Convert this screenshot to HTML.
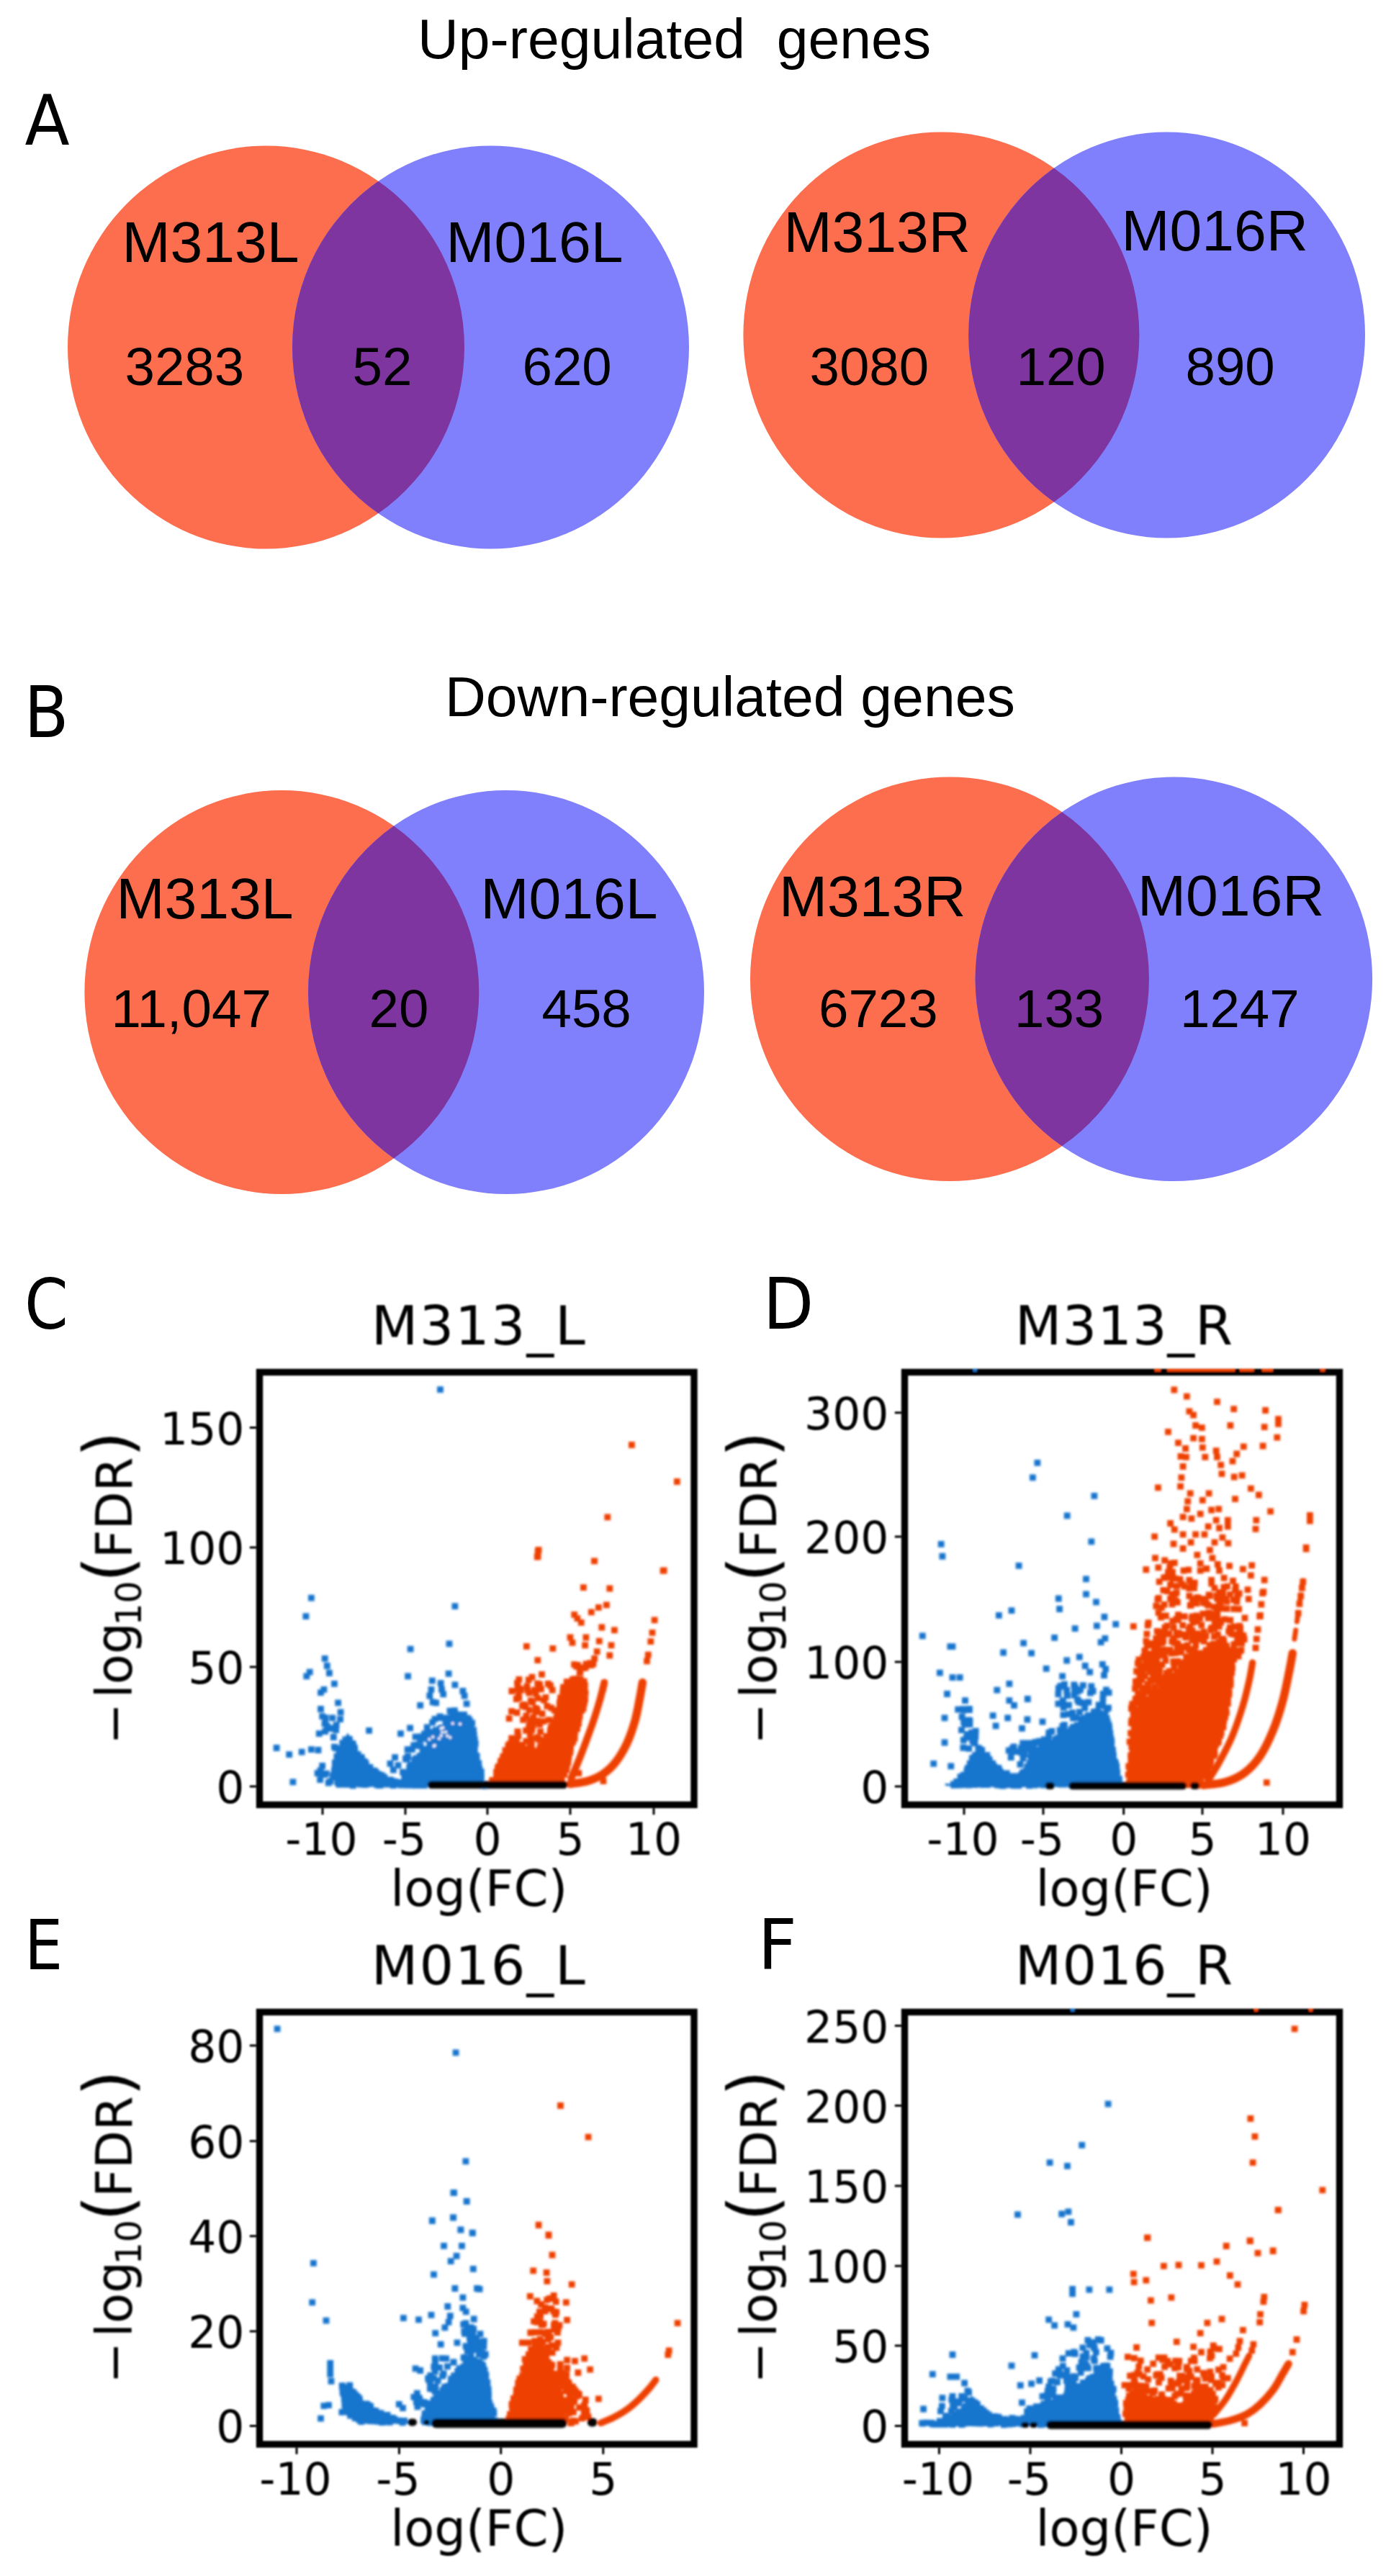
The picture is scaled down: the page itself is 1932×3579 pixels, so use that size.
<!DOCTYPE html>
<html><head><meta charset="utf-8"><title>Figure</title>
<style>html,body{margin:0;padding:0;background:#fff}svg{display:block}text{fill:#000}</style>
</head><body>
<svg width="1932" height="3579" viewBox="0 0 1932 3579">
<rect width="1932" height="3579" fill="#fff"/>
<filter id="blv" x="0" y="0" width="1932" height="3579" filterUnits="userSpaceOnUse"><feGaussianBlur stdDeviation="0.7"/></filter><g filter="url(#blv)">
<ellipse cx="369.5" cy="482.5" rx="275.5" ry="280" fill="#FC6E4E"/>
<ellipse cx="681.5" cy="482.5" rx="275.5" ry="280" fill="#8080FC"/>
<path d="M525.5 251.7A275.5 280 0 0 1 525.5 713.3A275.5 280 0 0 1 525.5 251.7Z" fill="#7F35A0"/>
<ellipse cx="1307.4" cy="465.5" rx="275" ry="282" fill="#FC6E4E"/>
<ellipse cx="1620.6" cy="465.5" rx="275.4" ry="282" fill="#8080FC"/>
<path d="M1463.9 233.6A275 282 0 0 1 1463.9 697.4A275.4 282 0 0 1 1463.9 233.6Z" fill="#7F35A0"/>
<ellipse cx="391.4" cy="1378.5" rx="274" ry="280.5" fill="#FC6E4E"/>
<ellipse cx="703" cy="1378.5" rx="275" ry="280.5" fill="#8080FC"/>
<path d="M546.9 1147.6A274 280.5 0 0 1 546.9 1609.4A275 280.5 0 0 1 546.9 1147.6Z" fill="#7F35A0"/>
<ellipse cx="1319" cy="1360.3" rx="277" ry="280.8" fill="#FC6E4E"/>
<ellipse cx="1630.3" cy="1360.3" rx="275.8" ry="280.8" fill="#8080FC"/>
<path d="M1475.0 1128.3A277 280.8 0 0 1 1475.0 1592.3A275.8 280.8 0 0 1 1475.0 1128.3Z" fill="#7F35A0"/>
<text x="580" y="81" font-size="78.7" font-family="'Liberation Sans', sans-serif" text-anchor="start" >Up-regulated&#160; genes</text>
<text x="618" y="994.6" font-size="78.7" font-family="'Liberation Sans', sans-serif" text-anchor="start" >Down-regulated genes</text>
<text x="169.5" y="363.5" font-size="80.5" font-family="'Liberation Sans', sans-serif" text-anchor="start" >M313L</text>
<text x="619.5" y="363.5" font-size="80.5" font-family="'Liberation Sans', sans-serif" text-anchor="start" >M016L</text>
<text x="173.5" y="534.5" font-size="74.5" font-family="'Liberation Sans', sans-serif" text-anchor="start" >3283</text>
<text x="489.5" y="534.5" font-size="74.5" font-family="'Liberation Sans', sans-serif" text-anchor="start" >52</text>
<text x="725.5" y="534.5" font-size="74.5" font-family="'Liberation Sans', sans-serif" text-anchor="start" >620</text>
<text x="1088.5" y="350" font-size="80.5" font-family="'Liberation Sans', sans-serif" text-anchor="start" >M313R</text>
<text x="1557.5" y="348" font-size="80.5" font-family="'Liberation Sans', sans-serif" text-anchor="start" >M016R</text>
<text x="1124.5" y="534.5" font-size="74.5" font-family="'Liberation Sans', sans-serif" text-anchor="start" >3080</text>
<text x="1411.5" y="534.5" font-size="74.5" font-family="'Liberation Sans', sans-serif" text-anchor="start" >120</text>
<text x="1646.5" y="534.5" font-size="74.5" font-family="'Liberation Sans', sans-serif" text-anchor="start" >890</text>
<text x="161.5" y="1276" font-size="80.5" font-family="'Liberation Sans', sans-serif" text-anchor="start" >M313L</text>
<text x="667.5" y="1276" font-size="80.5" font-family="'Liberation Sans', sans-serif" text-anchor="start" >M016L</text>
<text x="154.5" y="1427" font-size="74.5" font-family="'Liberation Sans', sans-serif" text-anchor="start" >11,047</text>
<text x="512.5" y="1427" font-size="74.5" font-family="'Liberation Sans', sans-serif" text-anchor="start" >20</text>
<text x="752.5" y="1427" font-size="74.5" font-family="'Liberation Sans', sans-serif" text-anchor="start" >458</text>
<text x="1082.0" y="1273" font-size="80.5" font-family="'Liberation Sans', sans-serif" text-anchor="start" >M313R</text>
<text x="1580.0" y="1272" font-size="80.5" font-family="'Liberation Sans', sans-serif" text-anchor="start" >M016R</text>
<text x="1137.0" y="1427" font-size="74.5" font-family="'Liberation Sans', sans-serif" text-anchor="start" >6723</text>
<text x="1409.0" y="1427" font-size="74.5" font-family="'Liberation Sans', sans-serif" text-anchor="start" >133</text>
<text x="1639.0" y="1427" font-size="74.5" font-family="'Liberation Sans', sans-serif" text-anchor="start" >1247</text>
<text transform="translate(34.51,200.60) scale(1.0090,0.9547)" font-size="100" style="font-family:'DejaVu Sans Condensed','DejaVu Sans',sans-serif;font-stretch:condensed">A</text>
<text transform="translate(33.53,1024.50) scale(1.0036,0.9808)" font-size="100" style="font-family:'DejaVu Sans Condensed','DejaVu Sans',sans-serif;font-stretch:condensed">B</text>
<text transform="translate(33.89,1845.63) scale(0.9663,0.9652)" font-size="100" style="font-family:'DejaVu Sans Condensed','DejaVu Sans',sans-serif;font-stretch:condensed">C</text>
<text transform="translate(1059.81,1846.00) scale(1.0177,0.9739)" font-size="100" style="font-family:'DejaVu Sans Condensed','DejaVu Sans',sans-serif;font-stretch:condensed">D</text>
<text transform="translate(34.12,2735.50) scale(0.9365,0.9602)" font-size="100" style="font-family:'DejaVu Sans Condensed','DejaVu Sans',sans-serif;font-stretch:condensed">E</text>
<text transform="translate(1052.62,2735.50) scale(1.0505,0.9602)" font-size="100" style="font-family:'DejaVu Sans Condensed','DejaVu Sans',sans-serif;font-stretch:condensed">F</text>
</g>
<filter id="bl" x="0" y="1700" width="1932" height="1879" filterUnits="userSpaceOnUse"><feGaussianBlur stdDeviation="0.8"/></filter><filter id="bl2" x="0" y="1700" width="1932" height="1879" filterUnits="userSpaceOnUse"><feGaussianBlur stdDeviation="1.3"/></filter><g filter="url(#bl)">
<clipPath id="clipC"><rect x="360.5" y="1901.5" width="603.5" height="606.0"/></clipPath>
<g clip-path="url(#clipC)"><g filter="url(#bl2)">
<path d="M466.3 2476.1L468.7 2481.3L594.2 2481.3L587.7 2480.0L560.6 2476.5L560.4 2476.5L560.3 2476.4L542.7 2471.2L542.6 2471.1L542.4 2471.0L524.9 2462.3L524.7 2462.2L524.5 2462.0L509.2 2449.8L509.0 2449.7L508.9 2449.5L508.8 2449.4L495.7 2431.9L495.6 2431.7L495.5 2431.6L486.7 2414.1L482.9 2407.5L475.8 2420.6L467.1 2437.9L462.9 2457.0ZM557.1 2479.1L557.1 2481.3L673.7 2481.3L673.7 2479.2L669.9 2467.2L669.9 2467.1L663.7 2440.8L663.7 2440.6L659.7 2415.6L659.7 2415.6L656.3 2391.3L644.0 2380.6L635.8 2376.9L629.1 2383.7L620.4 2396.7L620.3 2396.8L620.2 2396.9L607.9 2410.1L607.9 2410.2L595.6 2422.4L595.5 2422.5L582.5 2434.7L569.5 2451.1L559.2 2467.4Z" fill="#1874CD"/>
<path d="M469.4 2476.9h0M471.0 2479.3h0M478.3 2478.2h0M480.1 2479.3h0M485.3 2479.3h0M490.4 2480.9h0M495.1 2478.0h0M500.9 2479.1h0M502.4 2478.0h0M507.0 2479.5h0M510.9 2478.6h0M516.6 2478.0h0M523.8 2479.9h0M526.7 2480.6h0M528.9 2480.2h0M538.0 2479.2h0M542.2 2478.9h0M546.3 2480.6h0M549.6 2478.0h0M553.6 2479.2h0M557.0 2480.1h0M563.3 2479.3h0M568.3 2479.6h0M567.8 2477.7h0M565.5 2480.4h0M559.8 2477.2h0M561.5 2479.1h0M558.5 2476.6h0M554.6 2476.4h0M548.2 2475.1h0M540.8 2473.9h0M543.2 2473.6h0M541.7 2472.9h0M538.3 2472.9h0M533.8 2469.2h0M530.3 2466.7h0M526.5 2465.3h0M522.4 2462.9h0M523.9 2464.8h0M521.3 2462.0h0M519.7 2460.2h0M513.9 2455.5h0M508.2 2450.7h0M507.4 2449.7h0M507.9 2449.9h0M508.2 2450.5h0M506.2 2447.5h0M502.6 2443.4h0M501.7 2441.3h0M497.2 2437.4h0M492.7 2431.8h0M492.8 2433.1h0M492.5 2428.5h0M490.5 2423.8h0M489.5 2422.3h0M485.5 2417.2h0M484.4 2416.2h0M479.9 2416.8h0M480.7 2418.7h0M475.7 2421.7h0M471.9 2430.5h0M471.3 2433.0h0M470.7 2438.6h0M467.9 2440.4h0M468.2 2443.9h0M465.3 2449.2h0M465.5 2453.2h0M466.7 2459.5h0M465.2 2464.2h0M466.5 2469.0h0M468.8 2475.4h0M560.2 2479.9h0M562.7 2478.6h0M565.4 2478.4h0M571.2 2480.3h0M576.3 2479.1h0M577.9 2480.7h0M585.7 2480.7h0M586.8 2478.2h0M589.4 2480.7h0M599.7 2479.0h0M603.3 2479.1h0M605.8 2478.2h0M611.1 2479.7h0M617.2 2478.8h0M622.3 2477.9h0M624.0 2478.3h0M629.3 2478.7h0M635.5 2478.3h0M635.7 2480.3h0M642.1 2479.1h0M650.5 2478.8h0M650.4 2478.2h0M655.3 2477.9h0M662.2 2479.8h0M664.3 2478.1h0M673.1 2481.0h0M670.8 2479.2h0M668.4 2468.5h0M667.4 2467.7h0M667.0 2464.8h0M668.3 2461.7h0M665.8 2457.3h0M664.0 2452.1h0M664.8 2449.8h0M662.1 2444.4h0M662.2 2440.2h0M661.1 2439.4h0M659.3 2431.8h0M659.2 2428.7h0M660.3 2422.3h0M659.3 2417.0h0M656.9 2416.7h0M658.3 2410.6h0M657.3 2412.0h0M657.7 2403.9h0M653.9 2396.8h0M655.7 2394.0h0M652.2 2390.0h0M649.8 2387.2h0M644.6 2382.3h0M644.0 2382.9h0M633.2 2383.4h0M628.8 2386.3h0M625.3 2390.7h0M623.8 2393.8h0M620.7 2396.6h0M622.7 2397.7h0M620.2 2399.1h0M617.5 2402.6h0M610.5 2410.4h0M608.3 2411.4h0M606.3 2413.1h0M604.1 2419.1h0M600.3 2419.3h0M596.9 2424.9h0M596.9 2425.7h0M591.7 2430.2h0M587.2 2434.1h0M583.1 2439.6h0M577.8 2442.8h0M575.7 2445.3h0M570.3 2451.8h0M568.7 2455.1h0M568.8 2455.3h0M564.5 2464.4h0M564.1 2466.6h0M561.7 2469.9h0M559.9 2477.2h0M574.7 2424.8h0M611.4 2402.8h0M600.7 2406.6h0M618.9 2390.0h0M594.8 2415.6h0M632.3 2386.6h0M619.4 2392.0h0M614.4 2386.9h0M589.5 2408.9h0M576.7 2425.3h0M584.0 2416.9h0M633.8 2392.7h0M597.7 2414.0h0M647.8 2390.7h0M642.6 2382.3h0M627.8 2380.4h0M598.0 2414.2h0M625.0 2377.2h0M563.5 2443.5h0M633.9 2393.6h0M566.6 2441.2h0M605.1 2403.7h0M566.5 2440.1h0M600.6 2393.1h0M614.0 2400.3h0M595.0 2416.4h0M593.2 2399.9h0M610.9 2384.9h0M638.9 2383.7h0M611.5 2386.5h0M572.4 2430.5h0M631.4 2376.6h0M584.0 2425.8h0M564.8 2444.3h0M622.8 2387.0h0M604.0 2388.4h0M621.4 2398.4h0M588.1 2415.2h0M594.8 2406.4h0M596.4 2411.6h0M591.6 2410.9h0M583.6 2415.8h0M630.2 2380.1h0M583.1 2412.9h0M611.7 2401.7h0M451.6 2405.6h0M463.3 2413.5h0M452.1 2386.7h0M458.1 2400.8h0M451.0 2394.9h0M472.6 2388.6h0M466.6 2428.8h0M451.7 2394.7h0M467.1 2396.7h0M458.5 2401.7h0M462.5 2466.9h0M444.6 2472.6h0M447.8 2465.4h0M456.2 2477.0h0M464.4 2459.6h0M453.2 2464.2h0M458.9 2474.8h0M445.0 2459.8h0M611.5 1930.6h0M432.4 2220.2h0M424.9 2245.6h0M451.2 2304.4h0M454.3 2314.5h0M457.4 2324.5h0M430.2 2323.2h0M425.8 2328.9h0M464.4 2339.4h0M449.9 2347.3h0M445.5 2351.7h0M469.6 2365.8h0M445.5 2374.5h0M473.1 2378.9h0M447.7 2384.6h0M461.7 2386.8h0M454.3 2397.8h0M466.6 2403.5h0M443.3 2408.7h0M512.6 2404.4h0M464.4 2427.2h0M384.1 2428.5h0M401.7 2437.7h0M419.2 2434.2h0M432.4 2430.7h0M442.0 2431.5h0M447.7 2453.5h0M441.1 2463.6h0M449.9 2465.7h0M406.9 2475.8h0M631.9 2231.6h0M624.0 2283.8h0M570.1 2291.2h0M623.1 2325.4h0M566.6 2328.9h0M600.3 2335.1h0M599.0 2347.3h0M596.8 2356.1h0M601.2 2364.9h0M612.2 2338.6h0M613.5 2347.3h0M615.7 2353.9h0M605.6 2365.8h0M631.9 2340.8h0M642.9 2349.5h0M645.1 2356.1h0M648.1 2367.1h0M583.7 2369.3h0M548.6 2441.6h0M542.0 2450.4h0M553.0 2452.6h0M546.4 2459.2h0M559.5 2462.2h0M556.5 2408.7h0M569.6 2400.8h0M577.1 2413.1h0M566.1 2430.7h0M579.3 2424.1h0" fill="none" stroke="#1874CD" stroke-width="8.8" stroke-linecap="square"/>
<path d="M602.7 2426.0h0M612.6 2401.6h0M615.2 2400.6h0M612.8 2411.6h0M614.3 2406.7h0M628.8 2394.4h0M625.1 2414.1h0M639.0 2395.3h0M610.0 2415.4h0M601.2 2413.3h0M603.8 2425.1h0M621.2 2411.7h0M619.0 2406.4h0M596.3 2416.5h0" fill="none" stroke="#fff" stroke-width="4" stroke-linecap="round"/>
<path d="M681.1 2480.6L681.8 2481.3L781.6 2481.3L782.5 2476.3L782.6 2476.2L787.8 2456.5L794.4 2430.2L794.4 2430.1L803.2 2399.4L811.9 2368.8L815.8 2344.1L811.1 2334.1L798.5 2330.1L786.0 2334.1L779.9 2350.1L773.3 2380.7L773.3 2380.8L773.2 2381.0L761.8 2407.3L761.7 2407.5L761.6 2407.7L749.8 2425.2L749.6 2425.4L749.5 2425.5L749.4 2425.6L738.4 2434.4L738.2 2434.5L738.1 2434.6L737.9 2434.7L737.7 2434.8L737.5 2434.8L737.3 2434.8L737.1 2434.9L737.0 2434.8L736.8 2434.8L736.6 2434.8L736.4 2434.7L736.2 2434.6L736.1 2434.5L735.9 2434.4L735.8 2434.3L722.7 2421.6L711.3 2412.5L703.8 2423.7L695.1 2445.4L695.1 2445.5L686.4 2466.5Z" fill="#EE4000"/>
<path d="M793.3 2471.0C794.9 2467.2 799.5 2456.8 802.9 2448.2C806.4 2439.7 810.2 2429.6 813.9 2419.7C817.5 2409.8 821.6 2398.9 824.9 2389.0C828.1 2379.1 831.2 2369.1 833.6 2360.5C836.0 2351.9 838.4 2341.5 839.3 2337.7" fill="none" stroke="#EE4000" stroke-width="10" stroke-linecap="round"/>
<path d="M792.0 2478.5C796.0 2477.8 808.4 2476.9 816.1 2474.5C823.8 2472.2 831.4 2468.9 838.0 2464.4C844.6 2460.0 850.1 2454.9 855.5 2447.8C861.0 2440.7 866.5 2431.3 870.9 2421.9C875.3 2412.5 878.9 2401.4 881.9 2391.2C884.8 2381.0 886.7 2369.4 888.4 2360.5C890.2 2351.6 891.7 2341.5 892.4 2337.7" fill="none" stroke="#EE4000" stroke-width="11.5" stroke-linecap="round"/>
<path d="M686.4 2478.3h0M689.2 2479.8h0M697.2 2479.8h0M697.7 2478.8h0M704.3 2478.6h0M708.1 2479.0h0M712.8 2480.7h0M719.0 2478.1h0M722.4 2480.0h0M729.9 2478.9h0M731.2 2478.3h0M733.9 2478.2h0M741.8 2479.7h0M745.5 2478.5h0M751.7 2479.2h0M751.0 2478.9h0M758.6 2478.6h0M766.4 2479.0h0M769.1 2478.0h0M771.2 2478.7h0M779.6 2478.0h0M780.8 2477.9h0M780.1 2474.5h0M779.7 2475.3h0M783.8 2465.4h0M783.6 2462.6h0M786.6 2458.9h0M787.4 2453.6h0M789.0 2448.7h0M789.4 2444.4h0M790.1 2440.1h0M791.9 2434.7h0M791.7 2432.8h0M792.5 2429.9h0M792.3 2428.6h0M794.2 2421.9h0M796.2 2419.4h0M798.2 2414.8h0M797.1 2408.5h0M798.7 2406.0h0M801.6 2401.8h0M803.6 2394.7h0M802.7 2391.8h0M804.2 2387.3h0M805.2 2383.8h0M807.8 2376.5h0M810.2 2373.5h0M809.6 2372.4h0M811.4 2366.6h0M812.6 2361.3h0M810.7 2355.8h0M813.1 2352.2h0M811.9 2347.8h0M812.4 2341.4h0M811.2 2336.1h0M806.3 2333.3h0M798.8 2332.6h0M795.5 2333.5h0M787.3 2336.6h0M787.2 2338.8h0M782.5 2344.2h0M782.1 2348.5h0M781.7 2353.3h0M778.5 2358.9h0M777.4 2365.7h0M777.3 2369.0h0M774.6 2377.1h0M776.8 2376.9h0M773.7 2380.8h0M775.3 2382.6h0M773.9 2383.7h0M772.2 2388.5h0M770.3 2392.7h0M768.5 2397.8h0M765.3 2399.4h0M764.2 2404.8h0M764.3 2407.6h0M764.8 2409.5h0M758.8 2412.5h0M759.0 2417.2h0M755.2 2418.2h0M753.4 2426.7h0M750.6 2425.6h0M752.2 2428.2h0M751.0 2426.9h0M749.9 2429.7h0M744.8 2432.7h0M740.9 2434.0h0M738.1 2436.5h0M739.3 2436.6h0M740.3 2435.5h0M740.0 2435.8h0M737.9 2436.8h0M738.2 2436.1h0M737.2 2436.7h0M735.9 2436.3h0M735.7 2437.6h0M735.2 2436.8h0M736.7 2436.8h0M735.0 2435.1h0M734.8 2435.5h0M733.8 2434.8h0M733.7 2436.7h0M731.8 2433.7h0M728.7 2429.9h0M725.7 2428.5h0M725.4 2424.5h0M717.4 2420.7h0M712.5 2416.9h0M710.6 2415.1h0M708.2 2422.8h0M705.9 2425.2h0M702.0 2432.0h0M702.9 2432.6h0M698.8 2440.5h0M697.9 2445.2h0M695.4 2447.2h0M697.2 2448.9h0M692.7 2454.1h0M691.4 2456.3h0M689.5 2462.2h0M689.6 2465.5h0M684.8 2473.5h0M683.6 2473.7h0M718.8 2406.0h0M739.1 2390.3h0M759.9 2370.3h0M744.7 2373.7h0M719.8 2412.2h0M736.2 2426.2h0M718.0 2379.5h0M738.3 2423.8h0M770.1 2376.1h0M746.8 2359.4h0M746.9 2415.1h0M730.9 2383.8h0M746.4 2376.9h0M765.6 2372.9h0M745.8 2390.9h0M723.3 2348.3h0M739.0 2403.3h0M730.6 2404.3h0M707.2 2387.7h0M718.5 2338.3h0M746.7 2339.1h0M742.5 2348.2h0M739.7 2365.1h0M751.5 2346.7h0M735.1 2375.8h0M755.5 2362.2h0M734.7 2399.5h0M744.1 2378.6h0M753.1 2381.0h0M762.6 2389.7h0M726.7 2389.4h0M737.4 2419.4h0M754.6 2391.6h0M735.9 2393.3h0M757.9 2358.3h0M767.2 2348.1h0M740.7 2386.2h0M725.5 2370.2h0M737.6 2416.7h0M748.9 2392.0h0M732.8 2348.2h0M740.3 2396.8h0M710.5 2377.6h0M719.5 2347.2h0M744.1 2352.5h0M744.4 2373.5h0M750.6 2405.8h0M764.5 2342.0h0M736.3 2409.1h0M720.2 2356.2h0M734.8 2352.2h0M722.5 2346.6h0M737.1 2417.5h0M748.8 2416.5h0M737.3 2363.0h0M749.6 2340.4h0M749.6 2395.8h0M727.9 2368.3h0M730.9 2419.2h0M720.8 2358.8h0M746.3 2375.9h0M730.0 2371.5h0M719.1 2405.9h0M719.3 2343.4h0M750.8 2346.8h0M745.9 2413.8h0M739.0 2330.1h0M730.8 2384.7h0M734.3 2333.8h0M717.3 2360.5h0M819.8 2310.7h0M800.8 2315.3h0M824.0 2311.5h0M805.3 2324.0h0M797.6 2312.7h0M813.3 2316.8h0M810.5 2317.7h0M814.1 2312.0h0M802.4 2313.5h0M808.6 2316.9h0M821.2 2313.5h0M805.9 2322.1h0M877.4 2007.5h0M940.4 2058.5h0M843.8 2107.8h0M747.2 2155.1h0M746.3 2163.0h0M825.4 2168.9h0M921.1 2182.3h0M748.1 2153.5h0M747.2 2162.3h0M825.7 2168.9h0M922.2 2182.0h0M810.4 2205.7h0M846.8 2207.0h0M842.4 2229.8h0M831.4 2233.3h0M821.3 2239.9h0M797.7 2243.4h0M802.0 2248.7h0M807.3 2254.4h0M835.8 2261.0h0M853.4 2264.9h0M792.0 2275.0h0M795.0 2282.4h0M813.9 2275.0h0M812.6 2285.9h0M832.3 2280.2h0M849.0 2285.9h0M731.4 2287.3h0M767.8 2290.3h0M829.2 2294.7h0M846.8 2300.0h0M825.7 2304.4h0M746.8 2306.6h0M752.5 2326.3h0M720.9 2333.3h0M761.3 2339.4h0M731.9 2343.0h0M710.8 2349.5h0M898.5 2307.9h0M900.3 2299.1h0M903.8 2280.7h0M906.0 2268.4h0M909.1 2250.9h0M838.0 2474.5h0M803.8 2463.6h0M839.3 2338.6h0M838.0 2345.1h0" fill="none" stroke="#EE4000" stroke-width="8.8" stroke-linecap="square"/>
<path d="M599.0 2479.8L783.2 2479.8" stroke="#000" stroke-width="10.5" stroke-linecap="round"/>
</g></g>
<rect x="360.5" y="1906.5" width="603.5" height="601.0" fill="none" stroke="#000" stroke-width="9.4"/>
<text x="446.5" y="2576.5" font-size="61.5" font-family="'DejaVu Sans', sans-serif" text-anchor="middle">-10</text>
<text x="561.5" y="2576.5" font-size="61.5" font-family="'DejaVu Sans', sans-serif" text-anchor="middle">-5</text>
<text x="677" y="2576.5" font-size="61.5" font-family="'DejaVu Sans', sans-serif" text-anchor="middle">0</text>
<text x="792" y="2576.5" font-size="61.5" font-family="'DejaVu Sans', sans-serif" text-anchor="middle">5</text>
<text x="908" y="2576.5" font-size="61.5" font-family="'DejaVu Sans', sans-serif" text-anchor="middle">10</text>
<text x="339.5" y="2006.5" font-size="61.5" font-family="'DejaVu Sans', sans-serif" text-anchor="end">150</text>
<text x="339.5" y="2173.0" font-size="61.5" font-family="'DejaVu Sans', sans-serif" text-anchor="end">100</text>
<text x="339.5" y="2339.0" font-size="61.5" font-family="'DejaVu Sans', sans-serif" text-anchor="end">50</text>
<text x="339.5" y="2505.0" font-size="61.5" font-family="'DejaVu Sans', sans-serif" text-anchor="end">0</text>
<path d="M448 2512.2v9M563 2512.2v9M677 2512.2v9M792 2512.2v9M908 2512.2v9M355.8 1983.5h-9M355.8 2150h-9M355.8 2316h-9M355.8 2482h-9" stroke="#000" stroke-width="3" fill="none"/>
<text x="665.25" y="1868.3" font-size="75" letter-spacing="2" font-family="'DejaVu Sans', sans-serif" text-anchor="middle">M313_L</text>
<text x="665.25" y="2647.8" font-size="68.8" font-family="'DejaVu Sans', sans-serif" text-anchor="middle">log(FC)</text>
<text transform="translate(182.8,2423.6) rotate(-90)" font-size="69" font-family="'DejaVu Sans', sans-serif">−<tspan dx="6.3">log</tspan><tspan font-size="49" dy="13" dx="-4.4">10</tspan><tspan font-size="92" dy="-13" dx="-2">(</tspan><tspan dx="-2.7">FDR</tspan><tspan font-size="92">)</tspan></text>
<clipPath id="clipD"><rect x="1256.5" y="1901.5" width="604.0" height="606.0"/></clipPath>
<g clip-path="url(#clipD)"><g filter="url(#bl2)">
<path d="M1312.5 2477.7L1313.5 2481.3L1556.0 2481.3L1556.0 2476.9L1551.7 2453.8L1546.0 2424.5L1540.7 2398.2L1536.5 2381.7L1529.7 2374.9L1519.7 2376.9L1507.0 2384.1L1494.0 2394.9L1480.8 2405.9L1480.6 2406.0L1467.5 2414.8L1467.3 2414.9L1467.2 2415.0L1467.0 2415.0L1454.1 2419.3L1441.5 2426.9L1430.8 2443.1L1422.1 2460.5L1422.0 2460.7L1421.9 2460.8L1421.8 2461.0L1421.6 2461.1L1421.5 2461.2L1421.3 2461.4L1421.1 2461.4L1407.1 2467.6L1406.9 2467.7L1406.7 2467.7L1406.5 2467.7L1406.3 2467.7L1406.1 2467.7L1405.9 2467.7L1405.7 2467.7L1405.5 2467.6L1405.3 2467.5L1389.1 2458.7L1389.0 2458.6L1388.8 2458.5L1388.7 2458.4L1375.5 2445.2L1375.4 2445.1L1375.3 2445.0L1364.9 2430.3L1359.1 2425.8L1351.9 2438.2L1341.0 2459.6L1340.9 2459.8L1340.8 2459.9L1340.7 2460.1L1324.5 2478.1L1324.3 2478.2L1324.2 2478.3L1324.0 2478.4L1323.9 2478.5L1323.7 2478.6L1323.5 2478.6L1323.3 2478.7L1323.1 2478.7L1323.0 2478.7L1322.8 2478.7Z" fill="#1874CD"/>
<path d="M1331.4 2478.1h0M1331.6 2480.2h0M1337.2 2479.8h0M1342.3 2478.4h0M1345.5 2480.2h0M1354.4 2479.6h0M1354.3 2478.0h0M1357.6 2478.9h0M1365.1 2479.6h0M1368.4 2478.0h0M1371.6 2479.5h0M1381.0 2478.5h0M1385.5 2480.2h0M1390.0 2480.4h0M1392.7 2481.0h0M1395.7 2480.2h0M1400.9 2479.5h0M1407.5 2480.6h0M1410.7 2480.8h0M1414.8 2480.8h0M1420.3 2478.6h0M1423.7 2478.4h0M1429.6 2480.8h0M1433.6 2480.1h0M1437.7 2480.0h0M1442.0 2478.6h0M1448.2 2479.9h0M1450.4 2480.2h0M1456.8 2480.3h0M1458.9 2478.8h0M1465.0 2478.2h0M1470.9 2478.7h0M1474.1 2479.2h0M1478.3 2479.0h0M1482.4 2478.2h0M1488.5 2480.2h0M1489.5 2480.5h0M1494.5 2480.1h0M1499.7 2481.1h0M1503.1 2479.0h0M1512.1 2478.3h0M1513.1 2479.3h0M1521.9 2480.8h0M1526.8 2480.1h0M1528.1 2480.0h0M1531.5 2479.3h0M1538.7 2479.8h0M1542.4 2478.3h0M1548.7 2479.8h0M1550.0 2479.7h0M1552.8 2477.7h0M1552.8 2476.8h0M1554.5 2471.6h0M1550.8 2463.2h0M1551.7 2462.6h0M1550.8 2454.3h0M1549.6 2450.5h0M1548.6 2447.9h0M1546.5 2439.6h0M1546.0 2437.7h0M1545.5 2431.5h0M1543.6 2427.9h0M1543.9 2419.6h0M1542.9 2415.5h0M1541.8 2411.1h0M1541.9 2408.2h0M1540.8 2401.5h0M1540.1 2396.7h0M1538.2 2391.9h0M1536.9 2386.9h0M1534.6 2382.2h0M1523.9 2378.0h0M1519.3 2378.3h0M1511.0 2383.9h0M1511.6 2383.3h0M1506.8 2386.9h0M1502.0 2388.2h0M1496.2 2397.2h0M1490.6 2399.3h0M1488.0 2402.8h0M1484.6 2405.9h0M1482.0 2407.3h0M1478.4 2411.7h0M1472.9 2412.0h0M1470.0 2414.6h0M1469.6 2416.7h0M1466.7 2416.1h0M1466.4 2416.5h0M1465.8 2418.1h0M1455.4 2419.8h0M1452.8 2422.2h0M1447.9 2425.1h0M1446.5 2427.5h0M1439.5 2431.2h0M1437.5 2436.2h0M1437.0 2437.6h0M1433.3 2444.2h0M1431.9 2443.1h0M1430.2 2449.9h0M1426.9 2454.5h0M1425.8 2460.7h0M1425.1 2460.9h0M1423.9 2462.7h0M1422.2 2462.6h0M1423.5 2463.9h0M1421.1 2462.5h0M1423.5 2463.3h0M1420.4 2464.5h0M1418.8 2465.9h0M1411.8 2468.0h0M1407.9 2469.5h0M1406.6 2470.3h0M1407.8 2469.2h0M1407.2 2469.4h0M1408.1 2468.2h0M1406.3 2470.6h0M1406.5 2469.4h0M1404.8 2468.7h0M1403.5 2468.0h0M1403.5 2469.9h0M1401.0 2467.9h0M1398.4 2464.0h0M1395.3 2464.2h0M1389.6 2462.1h0M1387.5 2460.3h0M1387.7 2461.2h0M1388.0 2459.8h0M1386.9 2456.5h0M1380.8 2454.1h0M1378.7 2450.1h0M1373.4 2447.5h0M1374.2 2447.5h0M1374.3 2445.5h0M1372.9 2444.0h0M1370.9 2438.6h0M1363.8 2432.0h0M1361.0 2430.4h0M1358.9 2428.7h0M1355.2 2438.3h0M1353.5 2441.2h0M1350.3 2442.8h0M1347.3 2450.1h0M1344.4 2456.3h0M1343.1 2459.9h0M1343.7 2461.9h0M1342.9 2462.3h0M1342.9 2462.4h0M1339.8 2466.2h0M1338.2 2466.5h0M1334.0 2468.7h0M1328.7 2475.4h0M1325.1 2480.3h0M1324.3 2478.8h0M1493.9 2386.5h0M1499.9 2365.1h0M1484.2 2381.7h0M1496.3 2350.4h0M1515.8 2342.8h0M1490.5 2387.0h0M1473.0 2342.3h0M1481.6 2348.5h0M1498.7 2348.4h0M1492.5 2348.2h0M1484.5 2369.0h0M1492.1 2355.4h0M1476.9 2382.7h0M1499.4 2378.6h0M1476.0 2364.0h0M1532.2 2353.5h0M1526.1 2369.0h0M1496.5 2361.2h0M1514.4 2352.2h0M1531.6 2368.3h0M1511.9 2364.9h0M1531.9 2360.1h0M1498.0 2364.1h0M1539.5 2372.9h0M1489.6 2379.7h0M1493.2 2344.1h0M1477.1 2372.4h0M1536.4 2348.0h0M1503.5 2366.0h0M1476.4 2362.8h0M1470.3 2345.6h0M1506.8 2373.1h0M1504.3 2341.7h0M1482.5 2355.8h0M1536.9 2375.1h0M1478.4 2340.2h0M1530.1 2369.9h0M1482.1 2355.7h0M1338.7 2392.6h0M1342.7 2390.2h0M1354.0 2421.0h0M1346.8 2395.7h0M1338.3 2417.6h0M1351.1 2412.6h0M1346.5 2375.6h0M1335.5 2403.7h0M1349.4 2407.1h0M1352.3 2412.9h0M1353.3 2421.9h0M1355.2 2405.1h0M1330.7 2375.1h0M1346.3 2374.4h0M1338.5 2376.1h0M1354.9 2412.8h0M1338.1 2427.8h0M1347.0 2391.3h0M1342.3 2414.2h0M1343.5 2409.6h0M1337.9 2428.4h0M1336.1 2385.3h0M1346.1 2389.8h0M1345.7 2429.4h0M1350.8 2419.1h0M1343.3 2394.4h0M1340.2 2395.8h0M1337.4 2374.7h0M1418.2 2434.9h0M1456.6 2412.0h0M1417.0 2451.4h0M1472.2 2403.8h0M1421.0 2443.0h0M1428.3 2421.8h0M1401.2 2432.2h0M1450.3 2417.0h0M1405.1 2432.9h0M1476.0 2400.3h0M1476.9 2404.1h0M1432.4 2424.4h0M1418.4 2428.7h0M1404.2 2441.7h0M1433.2 2427.4h0M1408.1 2427.0h0M1460.9 2405.5h0M1426.5 2429.1h0M1478.3 2396.6h0M1406.1 2429.3h0M1409.0 2433.5h0M1433.5 2426.3h0M1423.1 2437.6h0M1443.7 2419.1h0M1475.9 2398.4h0M1435.3 2423.3h0M1436.4 2421.6h0M1420.6 2422.0h0M1438.4 2420.5h0M1456.9 2407.4h0M1434.7 2426.7h0M1409.5 2433.6h0M1432.3 2434.9h0M1433.8 2426.2h0M1447.2 2419.2h0M1308.9 2162.3h0M1415.1 2175.4h0M1508.5 2193.9h0M1508.5 2214.9h0M1522.5 2225.9h0M1470.3 2221.0h0M1471.6 2235.5h0M1405.0 2237.7h0M1387.4 2244.3h0M1533.9 2246.5h0M1549.7 2256.6h0M1523.4 2258.8h0M1493.1 2262.7h0M1281.3 2272.8h0M1464.6 2275.4h0M1534.8 2276.3h0M1529.1 2281.6h0M1421.6 2282.9h0M1319.9 2287.7h0M1323.0 2287.7h0M1393.6 2296.0h0M1432.6 2296.9h0M1499.3 2302.2h0M1481.7 2307.0h0M1453.2 2318.4h0M1507.2 2314.5h0M1513.7 2323.2h0M1531.3 2312.3h0M1535.7 2318.8h0M1533.5 2327.6h0M1305.4 2324.1h0M1323.0 2330.7h0M1333.1 2330.7h0M1475.6 2328.9h0M1401.9 2339.4h0M1384.8 2348.2h0M1315.5 2353.5h0M1476.5 2343.0h0M1491.8 2340.8h0M1500.6 2347.3h0M1518.1 2349.5h0M1540.1 2351.7h0M1340.5 2362.7h0M1427.3 2360.5h0M1401.9 2362.7h0M1408.5 2369.3h0M1469.9 2353.9h0M1469.9 2367.1h0M1312.0 2386.8h0M1379.1 2383.7h0M1399.7 2386.8h0M1426.9 2389.0h0M1448.0 2392.1h0M1383.1 2397.8h0M1419.5 2401.3h0M1312.0 2421.0h0M1296.7 2450.4h0M1320.8 2453.9h0M1440.9 2032.3h0M1434.4 2052.9h0M1519.9 2078.3h0M1482.2 2105.9h0M1515.9 2141.9h0M1307.2 2145.4h0M1308.9 2162.1h0" fill="none" stroke="#1874CD" stroke-width="8.8" stroke-linecap="square"/>
<path d="M1565.3 2476.8L1565.3 2481.3L1667.2 2481.3L1668.9 2477.3L1669.0 2477.1L1669.1 2476.9L1675.5 2467.0L1686.0 2443.1L1695.1 2414.8L1703.9 2382.0L1710.4 2347.1L1712.1 2312.4L1707.6 2291.8L1693.5 2285.9L1676.8 2291.3L1659.5 2300.8L1644.3 2311.6L1629.1 2324.7L1613.8 2340.0L1613.7 2340.1L1598.4 2353.2L1583.5 2366.0L1576.2 2389.5L1571.0 2422.2L1567.5 2452.8Z" fill="#EE4000"/>
<path d="M1678.2 2473.6C1680.7 2469.4 1688.1 2458.3 1693.5 2448.2C1699.0 2438.1 1705.6 2426.3 1711.1 2413.1C1716.6 2400.0 1722.4 2382.4 1726.4 2369.3C1730.4 2356.1 1733.0 2344.1 1735.2 2334.2C1737.4 2324.3 1738.9 2314.1 1739.6 2310.1" fill="none" stroke="#EE4000" stroke-width="9.5" stroke-linecap="round"/>
<path d="M1671.6 2480.2C1676.7 2479.5 1692.8 2478.7 1702.3 2475.8C1711.8 2473.0 1720.6 2469.2 1728.6 2463.1C1736.7 2457.1 1744.0 2449.2 1750.5 2439.4C1757.1 2429.6 1763.0 2416.8 1768.1 2404.4C1773.2 2391.9 1777.6 2378.0 1781.2 2364.9C1784.9 2351.7 1787.7 2336.7 1790.0 2325.4C1792.4 2314.1 1794.4 2301.7 1795.3 2296.9" fill="none" stroke="#EE4000" stroke-width="11.5" stroke-linecap="round"/>
<path d="M1797.9 2277.2L1799.7 2264.9" fill="none" stroke="#EE4000" stroke-width="7" stroke-linecap="round"/>
<path d="M1801.4 2253.1L1803.2 2239.9" fill="none" stroke="#EE4000" stroke-width="7" stroke-linecap="round"/>
<path d="M1804.9 2228.9L1806.7 2215.8" fill="none" stroke="#EE4000" stroke-width="7" stroke-linecap="round"/>
<path d="M1808.0 2204.8L1809.8 2196.0" fill="none" stroke="#EE4000" stroke-width="7" stroke-linecap="round"/>
<path d="M1568.0 2479.8h0M1570.8 2479.2h0M1571.8 2478.3h0M1580.5 2479.8h0M1583.6 2480.6h0M1586.1 2479.8h0M1593.9 2479.3h0M1594.3 2478.0h0M1603.1 2478.1h0M1606.3 2480.8h0M1615.3 2479.9h0M1616.0 2479.8h0M1619.1 2480.5h0M1627.0 2479.4h0M1629.7 2479.7h0M1635.3 2481.0h0M1637.8 2480.5h0M1645.0 2479.8h0M1649.5 2479.8h0M1653.2 2479.2h0M1658.4 2478.5h0M1662.9 2480.8h0M1667.4 2478.0h0M1666.3 2477.2h0M1666.0 2477.1h0M1667.2 2474.6h0M1671.9 2468.1h0M1674.8 2464.6h0M1677.7 2459.8h0M1681.0 2452.7h0M1680.7 2446.3h0M1681.9 2445.9h0M1686.0 2439.3h0M1687.1 2436.7h0M1686.8 2431.4h0M1688.6 2424.7h0M1691.8 2421.0h0M1692.6 2418.3h0M1694.9 2411.6h0M1696.2 2407.3h0M1694.8 2405.2h0M1699.1 2399.4h0M1699.9 2390.7h0M1701.6 2385.5h0M1700.0 2382.1h0M1703.4 2379.6h0M1702.6 2373.7h0M1705.4 2366.7h0M1703.8 2365.7h0M1705.5 2358.0h0M1707.1 2353.5h0M1707.2 2351.3h0M1708.9 2341.3h0M1709.3 2338.3h0M1708.6 2334.7h0M1709.2 2331.0h0M1710.8 2323.5h0M1710.6 2317.3h0M1711.6 2317.1h0M1710.9 2312.0h0M1709.7 2304.8h0M1708.0 2302.8h0M1708.1 2298.2h0M1705.8 2293.2h0M1698.9 2289.5h0M1694.6 2288.5h0M1690.0 2287.6h0M1685.9 2290.3h0M1678.1 2292.7h0M1675.2 2292.6h0M1670.6 2298.6h0M1667.2 2296.8h0M1663.2 2299.1h0M1659.5 2304.5h0M1654.4 2306.5h0M1650.9 2307.6h0M1647.5 2310.3h0M1644.6 2314.8h0M1640.2 2317.2h0M1635.6 2323.8h0M1634.4 2322.7h0M1628.2 2328.4h0M1623.9 2329.5h0M1620.4 2337.0h0M1619.6 2337.8h0M1615.4 2340.3h0M1615.1 2342.9h0M1607.1 2349.5h0M1603.8 2352.2h0M1601.4 2352.9h0M1599.1 2355.8h0M1592.5 2360.8h0M1592.3 2362.2h0M1586.0 2367.2h0M1584.9 2371.6h0M1582.5 2376.9h0M1580.7 2377.8h0M1578.9 2382.3h0M1580.1 2385.7h0M1576.4 2392.9h0M1578.5 2396.3h0M1575.1 2399.9h0M1577.0 2405.3h0M1575.7 2410.2h0M1573.7 2413.7h0M1573.8 2418.4h0M1571.7 2426.5h0M1573.0 2428.1h0M1572.6 2437.1h0M1570.6 2439.3h0M1570.9 2446.0h0M1570.6 2453.0h0M1567.7 2454.2h0M1569.4 2459.9h0M1569.3 2464.7h0M1567.2 2465.9h0M1568.6 2476.2h0M1657.0 2254.4h0M1607.8 2290.7h0M1586.1 2333.9h0M1603.5 2297.8h0M1583.5 2330.9h0M1590.4 2328.6h0M1646.6 2274.9h0M1601.5 2307.2h0M1591.3 2350.7h0M1578.0 2362.9h0M1634.2 2269.3h0M1598.5 2334.9h0M1582.6 2323.7h0M1706.7 2266.5h0M1657.2 2270.2h0M1654.8 2291.3h0M1723.9 2292.7h0M1653.5 2267.1h0M1588.2 2302.4h0M1609.5 2300.3h0M1617.8 2332.9h0M1615.0 2271.7h0M1574.2 2383.4h0M1696.2 2277.6h0M1591.2 2345.6h0M1627.0 2297.2h0M1608.3 2319.6h0M1591.3 2302.4h0M1603.4 2285.2h0M1575.8 2375.3h0M1588.2 2315.0h0M1620.1 2324.5h0M1637.5 2269.5h0M1675.0 2273.1h0M1615.5 2276.4h0M1713.9 2284.7h0M1610.1 2334.4h0M1659.1 2294.2h0M1689.0 2254.2h0M1571.8 2390.7h0M1625.1 2292.5h0M1593.9 2343.2h0M1658.0 2298.2h0M1601.6 2327.7h0M1593.2 2349.0h0M1638.5 2295.5h0M1685.3 2283.8h0M1647.6 2302.0h0M1728.2 2277.5h0M1572.3 2374.1h0M1635.8 2268.6h0M1592.8 2311.8h0M1724.6 2283.0h0M1597.2 2323.0h0M1609.0 2316.8h0M1620.0 2293.7h0M1713.8 2305.3h0M1577.5 2375.6h0M1697.8 2284.3h0M1699.8 2280.3h0M1600.2 2283.5h0M1713.5 2291.9h0M1720.1 2301.1h0M1635.2 2292.2h0M1643.6 2287.7h0M1614.5 2274.7h0M1580.2 2366.2h0M1604.1 2343.9h0M1591.2 2318.7h0M1624.5 2321.8h0M1571.4 2373.2h0M1604.2 2333.7h0M1587.4 2354.0h0M1606.7 2303.9h0M1619.3 2330.6h0M1710.0 2269.9h0M1641.1 2271.0h0M1694.2 2251.9h0M1581.7 2342.1h0M1580.4 2311.0h0M1655.7 2278.8h0M1587.9 2328.0h0M1655.3 2298.8h0M1606.8 2297.5h0M1594.7 2342.7h0M1597.5 2306.7h0M1672.1 2267.3h0M1721.6 2263.7h0M1578.9 2340.0h0M1632.4 2296.6h0M1604.2 2331.1h0M1598.3 2283.7h0M1584.0 2327.9h0M1640.7 2293.8h0M1686.5 2262.2h0M1712.2 2292.9h0M1662.9 2269.6h0M1574.7 2384.1h0M1618.9 2307.1h0M1631.3 2282.3h0M1586.8 2359.4h0M1603.5 2289.4h0M1600.4 2319.2h0M1708.4 2261.5h0M1600.8 2297.6h0M1630.1 2261.2h0M1570.6 2408.0h0M1581.0 2335.1h0M1721.3 2260.4h0M1608.4 2278.3h0M1591.3 2311.0h0M1715.3 2298.1h0M1571.3 2394.0h0M1651.4 2292.3h0M1606.2 2312.3h0M1587.3 2359.7h0M1662.7 2252.6h0M1693.2 2281.8h0M1578.5 2360.0h0M1727.0 2272.4h0M1661.5 2270.5h0M1597.7 2317.5h0M1605.7 2276.5h0M1722.3 2293.9h0M1578.6 2322.0h0M1630.7 2317.3h0M1618.9 2331.7h0M1635.3 2272.1h0M1601.7 2310.5h0M1595.2 2299.2h0M1588.4 2355.2h0M1695.7 2254.1h0M1611.0 2292.6h0M1643.9 2288.6h0M1660.1 2271.6h0M1627.8 2280.5h0M1605.0 2298.8h0M1586.6 2350.0h0M1599.5 2334.3h0M1681.7 2264.6h0M1649.4 2285.9h0M1691.4 2270.8h0M1642.7 2258.2h0M1635.7 2308.2h0M1713.9 2260.0h0M1604.8 2333.4h0M1722.6 2261.8h0M1672.2 2280.3h0M1577.1 2361.2h0M1639.7 2309.8h0M1597.5 2335.4h0M1580.7 2352.7h0M1718.8 2272.3h0M1573.8 2367.3h0M1698.9 2278.4h0M1590.3 2293.3h0M1616.3 2292.1h0M1629.8 2308.5h0M1639.7 2287.7h0M1591.9 2302.8h0M1668.7 2258.0h0M1667.1 2272.0h0M1577.4 2336.4h0M1613.6 2282.7h0M1614.0 2312.8h0M1623.9 2270.4h0M1698.9 2279.4h0M1569.1 2419.8h0M1693.2 2259.8h0M1686.4 2273.6h0M1592.9 2348.9h0M1645.7 2287.8h0M1718.9 2279.4h0M1574.5 2379.2h0M1652.8 2260.5h0M1663.6 2277.5h0M1651.4 2264.3h0M1593.2 2286.4h0M1682.7 2261.7h0M1698.8 2277.2h0M1648.2 2271.2h0M1581.9 2306.0h0M1656.7 2292.2h0M1723.5 2279.4h0M1615.8 2280.4h0M1610.5 2320.4h0M1598.2 2321.2h0M1713.9 2299.9h0M1610.1 2327.9h0M1586.2 2325.0h0M1610.1 2271.4h0M1603.0 2333.6h0M1680.1 2286.0h0M1623.6 2269.7h0M1687.3 2256.6h0M1595.2 2346.0h0M1582.7 2359.1h0M1655.9 2265.3h0M1601.4 2334.2h0M1700.8 2249.8h0M1687.5 2285.3h0M1598.8 2285.9h0M1618.7 2270.1h0M1709.9 2265.0h0M1612.4 2336.2h0M1606.3 2327.1h0M1589.2 2344.8h0M1594.2 2339.8h0M1617.4 2299.1h0M1708.8 2250.9h0M1722.5 2265.9h0M1635.8 2283.3h0M1687.1 2250.2h0M1609.2 2339.2h0M1709.6 2267.5h0M1635.4 2283.9h0M1583.8 2316.7h0M1575.4 2379.6h0M1597.9 2297.6h0M1703.5 2287.0h0M1660.9 2286.0h0M1619.3 2292.4h0M1637.7 2309.9h0M1608.5 2317.4h0M1572.7 2367.9h0M1700.7 2285.9h0M1714.2 2270.9h0M1607.7 2282.0h0M1655.3 2248.7h0M1722.7 2263.2h0M1630.4 2276.7h0M1582.3 2338.6h0M1576.6 2346.0h0M1718.1 2282.7h0M1721.5 2259.1h0M1612.5 2267.5h0M1636.3 2250.5h0M1595.1 2254.6h0M1591.9 2280.1h0M1594.2 2258.2h0M1628.7 2252.1h0M1617.9 2261.5h0M1633.9 2249.7h0M1592.9 2270.2h0M1589.9 2294.9h0M1607.2 2266.3h0M1621.0 2259.0h0M1693.6 2212.4h0M1631.6 2225.3h0M1690.4 2236.8h0M1689.8 2216.8h0M1712.5 2196.4h0M1700.1 2192.4h0M1671.7 2226.9h0M1718.5 2218.5h0M1628.3 2215.7h0M1619.4 2245.0h0M1713.7 2235.4h0M1658.0 2205.0h0M1624.7 2177.6h0M1716.4 2204.5h0M1661.7 2244.9h0M1678.4 2230.3h0M1713.5 2222.9h0M1675.9 2179.5h0M1653.2 2230.5h0M1694.8 2226.5h0M1608.0 2222.1h0M1659.3 2199.1h0M1613.4 2233.7h0M1688.5 2246.7h0M1656.2 2221.7h0M1678.8 2240.9h0M1654.8 2202.6h0M1628.0 2228.8h0M1628.5 2184.2h0M1672.7 2223.5h0M1628.5 2191.7h0M1670.8 2242.2h0M1692.6 2232.2h0M1671.5 2221.6h0M1666.6 2248.4h0M1641.8 2201.0h0M1690.8 2243.7h0M1650.7 2181.1h0M1628.8 2193.1h0M1631.6 2214.5h0M1708.4 2215.4h0M1693.1 2222.9h0M1698.6 2213.8h0M1685.3 2242.5h0M1634.3 2203.6h0M1651.7 2206.9h0M1703.9 2235.1h0M1703.9 2225.2h0M1619.7 2191.5h0M1690.4 2220.7h0M1674.2 2226.0h0M1626.5 2172.1h0M1661.9 2227.7h0M1671.1 2225.9h0M1638.9 2194.2h0M1679.1 2215.8h0M1635.4 2226.2h0M1618.1 2244.9h0M1682.7 2200.0h0M1699.9 2205.1h0M1625.6 2221.2h0M1721.2 2214.0h0M1664.4 2220.4h0M1728.9 2248.0h0M1617.2 2229.4h0M1621.2 2210.6h0M1616.7 2192.0h0M1609.1 2240.6h0M1717.8 2225.4h0M1679.0 2245.6h0M1574.3 2259.6h0M1591.8 2180.7h0M1756.2 2195.2h0M1753.6 2213.6h0M1751.9 2228.9h0M1749.7 2245.6h0M1747.0 2264.0h0M1745.3 2277.2h0M1744.0 2289.5h0M1759.3 2476.7h0M1814.1 2152.2h0M1630.8 1931.0h0M1648.4 1940.2h0M1690.5 1947.6h0M1713.7 1957.7h0M1757.6 1959.5h0M1651.9 1960.8h0M1657.6 1966.0h0M1775.5 1971.7h0M1775.5 1978.3h0M1660.6 1980.5h0M1669.4 1983.6h0M1708.9 1980.5h0M1756.2 1982.7h0M1622.5 1989.3h0M1773.8 1997.2h0M1657.6 1998.1h0M1669.4 1999.4h0M1636.5 2004.6h0M1646.6 2012.5h0M1670.3 2011.2h0M1727.3 2009.9h0M1754.1 2009.0h0M1689.2 2015.6h0M1717.7 2020.0h0M1640.0 2023.5h0M1647.5 2024.4h0M1673.8 2024.4h0M1690.5 2024.4h0M1695.7 2035.3h0M1712.0 2030.1h0M1643.1 2037.5h0M1697.0 2047.6h0M1714.2 2052.0h0M1725.1 2049.8h0M1640.9 2052.9h0M1639.6 2065.2h0M1608.5 2066.9h0M1737.4 2068.2h0M1653.2 2074.8h0M1679.1 2074.8h0M1748.4 2077.0h0M1649.7 2085.8h0M1670.3 2084.4h0M1715.5 2082.7h0M1648.4 2096.7h0M1682.6 2098.0h0M1692.7 2096.7h0M1764.6 2099.8h0M1667.2 2103.3h0M1643.1 2107.7h0M1654.9 2109.9h0M1689.2 2112.1h0M1705.4 2112.1h0M1744.8 2112.1h0M1625.6 2116.5h0M1678.2 2120.8h0M1693.5 2123.0h0M1705.4 2120.8h0M1744.0 2124.4h0M1631.3 2125.2h0M1643.1 2131.8h0M1660.6 2131.8h0M1672.9 2131.8h0M1603.6 2134.9h0M1697.9 2136.2h0M1654.1 2142.8h0M1687.0 2142.8h0M1630.0 2145.0h0M1705.8 2144.1h0M1643.1 2151.5h0M1680.4 2153.7h0M1662.8 2160.3h0M1604.5 2164.7h0M1683.9 2164.7h0M1617.7 2167.8h0M1631.3 2171.3h0M1667.2 2172.2h0M1691.3 2173.5h0M1707.6 2175.7h0M1738.7 2174.8h0M1591.8 2180.9h0M1608.9 2177.9h0M1726.4 2180.1h0M1622.5 2184.4h0M1644.0 2182.2h0M1667.2 2182.2h0M1693.5 2182.2h0M1737.4 2188.8h0M1632.1 2193.2h0M1651.9 2195.4h0M1682.6 2195.4h0M1756.2 2195.4h0M1610.2 2197.6h0M1625.6 2202.0h0M1645.3 2204.2h0M1658.5 2206.4h0M1687.0 2206.4h0M1704.5 2204.2h0M1715.5 2209.4h0M1733.0 2208.6h0M1615.9 2209.4h0M1754.9 2211.6h0M1634.3 2212.9h0M1651.9 2217.3h0M1662.8 2219.5h0M1680.4 2217.3h0M1693.5 2221.7h0M1609.3 2220.4h0M1702.3 2221.7h0M1734.3 2221.7h0M1633.0 2223.9h0M1676.0 2228.3h0M1751.9 2229.2h0M1605.8 2231.4h0M1654.1 2230.5h0M1687.0 2232.7h0M1697.9 2234.9h0M1720.7 2235.7h0M1750.5 2244.5h0M1612.4 2247.1h0M1636.5 2243.6h0M1645.3 2245.8h0M1656.3 2245.8h0M1678.2 2248.0h0M1819.4 2105.5h0M1819.4 2113.0h0M1814.1 2150.2h0M1809.8 2197.6h0M1808.4 2206.4h0M1806.7 2217.3h0M1804.9 2228.3h0M1803.2 2241.4h0" fill="none" stroke="#EE4000" stroke-width="8.8" stroke-linecap="square"/>
<path d="M1489.6 2481.1L1643.1 2481.1" stroke="#000" stroke-width="10.5" stroke-linecap="round"/>
<path d="M1456.7 2481.1L1459.8 2481.1" stroke="#000" stroke-width="10" stroke-linecap="round"/>
<path d="M1658.0 2481.1L1661.1 2481.1" stroke="#000" stroke-width="10" stroke-linecap="round"/>
</g></g>
<rect x="1256.5" y="1906.5" width="604.0" height="601.0" fill="none" stroke="#000" stroke-width="9.4"/>
<rect x="1351.5" y="1901.8" width="5.3" height="4" fill="#1874CD"/>
<rect x="1603.6" y="1901.8" width="8.8" height="4" fill="#EE4000"/>
<rect x="1621.2" y="1901.8" width="94.3" height="4" fill="#EE4000"/>
<rect x="1722.0" y="1901.8" width="19.7" height="4" fill="#EE4000"/>
<rect x="1752.7" y="1901.8" width="15.3" height="4" fill="#EE4000"/>
<rect x="1833.9" y="1901.8" width="6.6" height="4" fill="#EE4000"/>
<text x="1337.5" y="2576.5" font-size="61.5" font-family="'DejaVu Sans', sans-serif" text-anchor="middle">-10</text>
<text x="1447.5" y="2576.5" font-size="61.5" font-family="'DejaVu Sans', sans-serif" text-anchor="middle">-5</text>
<text x="1560.7" y="2576.5" font-size="61.5" font-family="'DejaVu Sans', sans-serif" text-anchor="middle">0</text>
<text x="1670" y="2576.5" font-size="61.5" font-family="'DejaVu Sans', sans-serif" text-anchor="middle">5</text>
<text x="1782" y="2576.5" font-size="61.5" font-family="'DejaVu Sans', sans-serif" text-anchor="middle">10</text>
<text x="1234.5" y="1985.8" font-size="61.5" font-family="'DejaVu Sans', sans-serif" text-anchor="end">300</text>
<text x="1234.5" y="2158.0" font-size="61.5" font-family="'DejaVu Sans', sans-serif" text-anchor="end">200</text>
<text x="1234.5" y="2332.0" font-size="61.5" font-family="'DejaVu Sans', sans-serif" text-anchor="end">100</text>
<text x="1234.5" y="2505.0" font-size="61.5" font-family="'DejaVu Sans', sans-serif" text-anchor="end">0</text>
<path d="M1339 2512.2v9M1449 2512.2v9M1560.7 2512.2v9M1670 2512.2v9M1782 2512.2v9M1251.8 1962.8h-9M1251.8 2135h-9M1251.8 2309h-9M1251.8 2482h-9" stroke="#000" stroke-width="3" fill="none"/>
<text x="1561.5" y="1868.3" font-size="75" letter-spacing="1" font-family="'DejaVu Sans', sans-serif" text-anchor="middle">M313_R</text>
<text x="1561.5" y="2647.8" font-size="68.8" font-family="'DejaVu Sans', sans-serif" text-anchor="middle">log(FC)</text>
<text transform="translate(1078,2423.6) rotate(-90)" font-size="69" font-family="'DejaVu Sans', sans-serif">−<tspan dx="6.3">log</tspan><tspan font-size="49" dy="13" dx="-4.4">10</tspan><tspan font-size="92" dy="-13" dx="-2">(</tspan><tspan dx="-2.7">FDR</tspan><tspan font-size="92">)</tspan></text>
<clipPath id="clipE"><rect x="360.5" y="2790.5" width="603.5" height="605.5"/></clipPath>
<g clip-path="url(#clipE)"><g filter="url(#bl2)">
<path d="M473.7 3313.7L473.4 3321.5L475.5 3337.7L481.8 3352.3L497.5 3364.7L568.5 3366.8L568.5 3365.1L551.5 3359.9L551.3 3359.8L529.4 3351.0L529.2 3350.9L509.4 3340.0L509.3 3339.9L509.1 3339.7L509.0 3339.6L493.7 3324.3L493.5 3324.1L493.4 3324.0L493.3 3323.8L487.3 3312.3ZM583.5 3366.9L688.7 3366.9L688.7 3362.6L683.0 3339.6L683.0 3339.4L678.6 3313.1L674.3 3292.3L670.6 3283.0L662.0 3277.5L651.0 3277.5L643.4 3283.5L630.8 3297.8L617.7 3314.9L617.6 3315.0L602.3 3332.5L589.8 3348.8Z" fill="#1874CD"/>
<path d="M475.6 3316.4h0M476.0 3323.2h0M477.0 3325.9h0M478.3 3333.1h0M478.9 3341.5h0M480.0 3343.7h0M483.1 3349.5h0M484.3 3351.7h0M486.6 3356.2h0M493.2 3359.7h0M498.5 3361.8h0M501.6 3364.5h0M505.4 3362.0h0M509.7 3363.0h0M514.0 3363.5h0M517.5 3363.8h0M524.7 3364.3h0M530.7 3365.5h0M531.8 3365.1h0M540.0 3364.4h0M541.2 3365.3h0M545.3 3363.0h0M553.4 3363.2h0M555.8 3363.6h0M559.2 3365.9h0M561.6 3363.3h0M551.9 3363.2h0M550.7 3363.1h0M548.0 3361.2h0M545.2 3359.4h0M538.1 3355.4h0M533.1 3356.2h0M528.8 3352.8h0M529.0 3352.9h0M526.5 3352.7h0M522.1 3349.9h0M518.8 3349.1h0M514.6 3343.2h0M511.1 3341.3h0M508.8 3340.0h0M508.0 3341.8h0M508.6 3341.8h0M506.2 3341.4h0M499.4 3333.2h0M497.2 3330.5h0M494.6 3328.5h0M491.9 3326.3h0M492.3 3326.0h0M490.9 3325.8h0M490.1 3323.2h0M485.8 3315.2h0M485.6 3314.2h0M475.2 3314.7h0M590.3 3364.9h0M590.4 3365.2h0M597.1 3366.2h0M599.9 3366.1h0M608.3 3364.6h0M608.9 3366.0h0M614.3 3364.8h0M619.8 3366.5h0M621.8 3366.5h0M632.9 3364.9h0M637.6 3364.2h0M640.9 3365.6h0M642.7 3364.6h0M645.3 3365.4h0M652.5 3363.6h0M659.5 3366.5h0M664.8 3365.4h0M664.8 3364.1h0M670.4 3365.2h0M676.4 3365.5h0M678.5 3366.3h0M685.4 3364.6h0M687.0 3365.7h0M687.6 3363.4h0M685.9 3353.0h0M685.1 3349.4h0M682.5 3348.0h0M681.8 3343.5h0M679.8 3338.8h0M679.7 3340.6h0M678.3 3330.0h0M678.6 3327.1h0M678.3 3320.1h0M677.0 3316.5h0M676.9 3310.2h0M674.6 3307.5h0M674.9 3299.6h0M673.1 3293.6h0M671.9 3291.9h0M670.8 3286.6h0M668.3 3284.2h0M664.8 3281.3h0M658.5 3278.9h0M653.1 3278.5h0M647.2 3282.9h0M643.8 3288.1h0M640.2 3290.9h0M638.4 3290.7h0M635.7 3294.5h0M630.6 3300.6h0M626.8 3305.1h0M626.4 3308.5h0M621.1 3315.5h0M617.5 3317.0h0M618.1 3316.7h0M615.0 3320.8h0M612.1 3325.3h0M608.0 3326.7h0M605.7 3331.9h0M602.2 3334.6h0M598.0 3339.3h0M594.3 3346.3h0M594.6 3347.1h0M590.3 3353.1h0M589.8 3357.0h0M588.5 3361.8h0M658.8 3248.5h0M650.0 3235.1h0M648.8 3262.1h0M670.6 3256.2h0M650.0 3236.1h0M654.1 3233.6h0M653.3 3241.8h0M661.7 3249.8h0M669.9 3269.2h0M660.2 3250.6h0M665.9 3271.1h0M654.7 3264.4h0M648.7 3237.1h0M665.8 3261.2h0M674.3 3271.0h0M649.2 3234.6h0M649.7 3234.4h0M665.4 3271.3h0M655.5 3264.1h0M643.7 3229.3h0M653.2 3256.0h0M652.4 3248.1h0M657.7 3235.7h0M654.4 3254.0h0M644.8 3239.2h0M671.8 3274.0h0M644.1 3275.8h0M653.8 3266.5h0M664.4 3260.0h0M664.3 3253.6h0M653.0 3263.6h0M664.5 3255.2h0M647.0 3259.6h0M671.9 3260.1h0M645.0 3275.3h0M645.6 3242.4h0M665.9 3256.9h0M660.1 3259.7h0M656.7 3241.3h0M646.9 3227.9h0M665.8 3265.5h0M659.7 3264.7h0M653.3 3238.8h0M654.1 3272.0h0M649.3 3266.3h0M598.8 3317.5h0M629.9 3281.8h0M578.4 3337.3h0M621.5 3287.8h0M610.4 3289.3h0M588.1 3337.6h0M597.4 3318.5h0M604.5 3322.5h0M605.0 3316.1h0M602.8 3288.5h0M601.7 3319.6h0M580.0 3338.4h0M614.2 3276.6h0M579.9 3343.9h0M604.5 3281.5h0M608.2 3307.6h0M616.1 3297.8h0M585.2 3337.7h0M589.8 3338.1h0M589.1 3340.3h0M614.6 3301.2h0M630.1 3282.0h0M597.9 3300.3h0M582.8 3334.1h0M596.0 3307.0h0M586.6 3337.4h0M604.2 3294.9h0M582.4 3332.5h0M597.6 3313.0h0M581.3 3331.6h0M385.1 2818.8h0M633.1 2851.9h0M646.9 3002.8h0M629.9 3046.5h0M648.3 3058.5h0M629.4 3081.0h0M600.4 3085.6h0M640.0 3098.1h0M656.1 3102.2h0M458.7 3283.4h0M458.7 3290.0h0M458.7 3298.7h0M460.0 3308.4h0M449.9 3342.6h0M456.5 3341.7h0M445.5 3360.1h0M474.9 3351.4h0M435.4 3144.4h0M433.7 3198.8h0M453.0 3224.2h0M630.6 3046.6h0M648.1 3058.4h0M600.3 3085.2h0M629.7 3080.8h0M639.8 3097.9h0M656.5 3102.7h0M616.5 3120.3h0M641.5 3120.3h0M634.1 3134.3h0M626.2 3141.7h0M657.3 3152.3h0M602.5 3160.2h0M631.9 3179.5h0M662.6 3179.5h0M666.1 3180.3h0M642.9 3192.2h0M621.8 3204.5h0M642.9 3206.6h0M647.2 3211.9h0M599.0 3216.3h0M625.3 3217.6h0M560.4 3220.7h0M581.5 3222.9h0M658.2 3222.0h0M623.1 3226.4h0M617.9 3233.8h0M604.7 3241.7h0M667.0 3242.6h0M612.2 3257.1h0M635.0 3254.9h0M672.2 3252.7h0M604.3 3276.8h0M619.6 3276.8h0M577.1 3290.8h0M583.7 3293.5h0M594.6 3304.4h0M602.5 3304.4h0M599.0 3318.5h0M579.3 3325.1h0M574.9 3330.3h0M554.3 3340.4h0M559.5 3345.7h0" fill="none" stroke="#1874CD" stroke-width="8.8" stroke-linecap="square"/>
<path d="M703.6 3366.9L785.3 3366.9L784.3 3360.5L779.9 3338.6L774.7 3312.5L766.0 3290.7L757.2 3269.7L757.2 3269.7L751.4 3254.9L742.9 3258.3L735.4 3269.8L726.7 3290.7L717.1 3316.9L709.3 3343.1Z" fill="#EE4000"/>
<path d="M834.5 3366.3C837.3 3365.1 845.5 3362.1 851.2 3359.3C856.9 3356.4 862.9 3353.3 868.7 3349.2C874.6 3345.1 880.8 3339.8 886.2 3334.7C891.7 3329.6 897.5 3323.1 901.6 3318.5C905.7 3313.8 909.3 3308.6 910.8 3306.6" fill="none" stroke="#EE4000" stroke-width="9.5" stroke-linecap="round"/>
<path d="M705.9 3365.9h0M712.2 3364.3h0M719.3 3366.3h0M723.3 3366.4h0M726.9 3364.7h0M728.6 3366.6h0M733.9 3363.9h0M738.6 3364.3h0M741.4 3365.6h0M747.9 3364.2h0M754.9 3365.3h0M758.7 3365.4h0M764.1 3364.1h0M764.4 3366.1h0M768.5 3366.6h0M776.2 3363.8h0M779.8 3366.2h0M783.2 3363.3h0M781.1 3356.4h0M779.7 3354.0h0M780.7 3345.7h0M778.5 3342.2h0M777.6 3338.5h0M777.2 3334.1h0M776.1 3326.7h0M774.3 3323.8h0M773.4 3315.1h0M771.5 3313.4h0M771.2 3307.1h0M769.8 3301.8h0M768.5 3299.5h0M764.4 3292.5h0M765.2 3291.0h0M763.4 3285.0h0M761.4 3281.9h0M758.6 3275.1h0M755.3 3271.2h0M756.3 3271.1h0M753.8 3268.4h0M751.7 3263.0h0M751.4 3259.8h0M745.4 3259.3h0M742.9 3260.5h0M738.8 3267.6h0M734.5 3275.0h0M733.9 3279.8h0M733.2 3280.7h0M730.4 3287.0h0M726.7 3291.1h0M725.5 3300.6h0M725.5 3302.0h0M721.8 3305.0h0M720.0 3310.4h0M719.7 3312.7h0M717.5 3320.2h0M717.2 3322.4h0M716.7 3330.1h0M713.4 3332.4h0M712.6 3339.4h0M710.9 3340.6h0M711.4 3344.9h0M708.5 3354.4h0M708.3 3359.7h0M706.7 3360.9h0M759.8 3242.8h0M777.0 3311.6h0M777.0 3230.7h0M750.3 3226.2h0M764.9 3296.7h0M742.6 3252.6h0M759.7 3195.3h0M765.9 3207.8h0M772.8 3212.3h0M776.7 3304.2h0M769.4 3230.3h0M761.1 3250.2h0M746.0 3255.7h0M778.2 3291.4h0M769.9 3236.7h0M757.2 3241.6h0M763.9 3207.5h0M745.9 3226.3h0M771.5 3298.1h0M743.0 3240.3h0M752.7 3271.8h0M781.1 3297.8h0M738.6 3240.7h0M758.3 3264.6h0M766.8 3258.6h0M758.8 3270.7h0M773.4 3308.8h0M771.5 3215.9h0M752.8 3230.2h0M750.6 3217.0h0M778.5 3298.7h0M750.8 3240.3h0M753.3 3263.4h0M750.4 3260.1h0M764.7 3247.3h0M774.5 3302.2h0M753.6 3253.9h0M772.9 3261.8h0M781.0 3305.5h0M786.9 3299.1h0M771.3 3235.2h0M760.7 3239.8h0M736.8 3241.0h0M751.2 3264.9h0M757.2 3211.1h0M757.8 3241.4h0M737.6 3264.3h0M732.2 3281.7h0M757.1 3279.5h0M762.1 3240.2h0M736.6 3273.4h0M778.2 3284.8h0M767.2 3268.5h0M774.4 3240.5h0M769.2 3189.4h0M769.1 3211.6h0M746.2 3218.7h0M775.3 3234.5h0M751.7 3201.7h0M761.3 3260.9h0M766.8 3285.9h0M752.4 3229.7h0M775.0 3254.9h0M733.7 3254.8h0M769.7 3303.4h0M729.1 3277.9h0M755.2 3228.6h0M734.3 3271.4h0M758.8 3290.3h0M750.2 3250.3h0M797.5 3319.8h0M791.4 3345.3h0M785.0 3341.1h0M781.9 3309.5h0M781.8 3335.7h0M785.9 3360.5h0M802.4 3325.2h0M811.4 3351.9h0M791.7 3350.2h0M786.8 3317.4h0M784.4 3315.9h0M804.6 3344.8h0M813.2 3334.2h0M792.5 3335.8h0M795.4 3316.1h0M793.4 3345.1h0M815.0 3349.4h0M794.8 3323.6h0M795.9 3363.4h0M785.8 3304.3h0M792.9 3366.5h0M787.3 3308.7h0M790.0 3322.8h0M783.8 3338.3h0M802.2 3329.0h0M799.4 3322.5h0M812.5 3356.3h0M776.0 3319.4h0M783.1 3313.2h0M778.5 3330.8h0M786.4 3321.8h0M790.7 3345.6h0M790.6 3314.1h0M789.8 3310.5h0M789.2 3338.4h0M794.0 3324.8h0M787.8 3334.7h0M813.3 3334.5h0M778.7 3314.2h0M792.7 3336.6h0M791.6 3326.9h0M797.9 3335.3h0M796.4 3333.8h0M817.1 3358.0h0M796.4 3351.4h0M808.4 3359.9h0M787.2 3346.1h0M799.5 3364.0h0M783.7 3348.9h0M812.0 3343.4h0M813.2 3348.4h0M783.8 3341.2h0M796.0 3337.0h0M811.2 3355.0h0M784.8 3313.8h0M793.1 3336.9h0M790.2 3352.9h0M811.3 3341.7h0M793.9 3365.4h0M795.3 3317.2h0M777.6 3325.9h0M804.4 3326.8h0M778.5 2925.5h0M817.1 2969.2h0M748.1 3091.2h0M761.9 3105.0h0M748.1 3091.7h0M762.1 3105.8h0M767.0 3133.0h0M740.7 3154.9h0M759.1 3157.5h0M759.9 3169.4h0M794.2 3173.8h0M736.3 3190.4h0M745.9 3197.0h0M763.5 3193.5h0M772.2 3197.9h0M786.3 3198.8h0M756.9 3205.8h0M749.4 3211.9h0M787.6 3223.3h0M770.9 3227.7h0M741.5 3225.1h0M725.3 3254.9h0M811.7 3276.8h0M798.5 3280.3h0M787.6 3279.0h0M819.6 3292.2h0M802.9 3296.5h0M787.6 3290.0h0M831.4 3332.9h0M941.1 3227.7h0M929.2 3265.8h0M927.9 3271.5h0" fill="none" stroke="#EE4000" stroke-width="8.8" stroke-linecap="square"/>
<path d="M605.6 3366.7L781.0 3366.7" stroke="#000" stroke-width="13" stroke-linecap="round"/>
<path d="M571.4 3365.4L574.0 3365.4" stroke="#000" stroke-width="10" stroke-linecap="round"/>
<path d="M592.0 3365.4L592.9 3365.4" stroke="#000" stroke-width="7" stroke-linecap="round"/>
<path d="M821.8 3365.4L823.5 3365.4" stroke="#000" stroke-width="12" stroke-linecap="round"/>
</g></g>
<rect x="360.5" y="2795.5" width="603.5" height="600.5" fill="none" stroke="#000" stroke-width="9.4"/>
<text x="410.5" y="3465.5" font-size="61.5" font-family="'DejaVu Sans', sans-serif" text-anchor="middle">-10</text>
<text x="552.9" y="3465.5" font-size="61.5" font-family="'DejaVu Sans', sans-serif" text-anchor="middle">-5</text>
<text x="695.7" y="3465.5" font-size="61.5" font-family="'DejaVu Sans', sans-serif" text-anchor="middle">0</text>
<text x="837.8" y="3465.5" font-size="61.5" font-family="'DejaVu Sans', sans-serif" text-anchor="middle">5</text>
<text x="339.5" y="2865.0" font-size="61.5" font-family="'DejaVu Sans', sans-serif" text-anchor="end">80</text>
<text x="339.5" y="2997.7" font-size="61.5" font-family="'DejaVu Sans', sans-serif" text-anchor="end">60</text>
<text x="339.5" y="3129.8" font-size="61.5" font-family="'DejaVu Sans', sans-serif" text-anchor="end">40</text>
<text x="339.5" y="3262.0" font-size="61.5" font-family="'DejaVu Sans', sans-serif" text-anchor="end">20</text>
<text x="339.5" y="3393.4" font-size="61.5" font-family="'DejaVu Sans', sans-serif" text-anchor="end">0</text>
<path d="M412 3400.7v9M554.4 3400.7v9M695.7 3400.7v9M837.8 3400.7v9M355.8 2842h-9M355.8 2974.7h-9M355.8 3106.8h-9M355.8 3239h-9M355.8 3370.4h-9" stroke="#000" stroke-width="3" fill="none"/>
<text x="665.25" y="2757.3" font-size="75" letter-spacing="2" font-family="'DejaVu Sans', sans-serif" text-anchor="middle">M016_L</text>
<text x="665.25" y="3536.8" font-size="68.8" font-family="'DejaVu Sans', sans-serif" text-anchor="middle">log(FC)</text>
<text transform="translate(182.8,3311.4) rotate(-90)" font-size="69" font-family="'DejaVu Sans', sans-serif">−<tspan dx="6.3">log</tspan><tspan font-size="49" dy="13" dx="-4.4">10</tspan><tspan font-size="92" dy="-13" dx="-2">(</tspan><tspan dx="-2.7">FDR</tspan><tspan font-size="92">)</tspan></text>
<clipPath id="clipF"><rect x="1256.5" y="2790.5" width="604.0" height="605.5"/></clipPath>
<g clip-path="url(#clipF)"><g filter="url(#bl2)">
<path d="M1279.5 3364.9L1280.7 3369.1L1553.8 3369.1L1553.8 3364.7L1549.5 3338.5L1549.5 3338.5L1544.7 3307.9L1540.4 3286.8L1535.8 3283.7L1526.0 3291.5L1510.7 3304.6L1510.6 3304.7L1493.0 3317.9L1492.9 3318.0L1492.7 3318.1L1475.2 3326.8L1457.7 3336.5L1457.5 3336.5L1457.3 3336.6L1439.8 3342.3L1439.7 3342.3L1426.3 3346.0L1421.3 3359.9L1421.3 3360.1L1421.2 3360.3L1421.1 3360.4L1420.9 3360.6L1420.8 3360.7L1420.6 3360.9L1420.5 3361.0L1420.3 3361.1L1420.1 3361.1L1419.9 3361.2L1419.7 3361.2L1419.5 3361.3L1419.3 3361.3L1419.1 3361.2L1408.2 3359.5L1386.4 3357.3L1386.2 3357.3L1386.0 3357.2L1385.8 3357.2L1369.6 3350.6L1369.4 3350.5L1369.2 3350.4L1369.1 3350.3L1368.9 3350.2L1355.8 3337.5L1355.6 3337.3L1355.5 3337.1L1349.5 3328.1L1344.9 3336.9L1344.8 3337.1L1344.7 3337.2L1344.6 3337.4L1331.9 3351.0L1331.8 3351.1L1331.6 3351.2L1331.5 3351.3L1331.3 3351.4L1313.8 3360.2L1313.6 3360.3L1299.6 3365.5L1299.4 3365.6L1299.2 3365.6L1299.0 3365.6L1298.8 3365.6Z" fill="#1874CD"/>
<path d="M1280.7 3366.6h0M1281.7 3367.0h0M1295.6 3368.1h0M1293.8 3366.5h0M1286.1 3366.1h0M1305.1 3368.3h0M1307.0 3366.7h0M1312.5 3368.4h0M1316.0 3367.6h0M1320.9 3366.3h0M1323.2 3368.7h0M1330.9 3366.7h0M1335.7 3368.5h0M1339.8 3367.0h0M1342.9 3366.2h0M1347.3 3365.8h0M1350.0 3366.6h0M1356.2 3366.8h0M1361.9 3367.0h0M1364.3 3366.6h0M1369.8 3366.7h0M1375.7 3366.0h0M1375.8 3368.1h0M1382.9 3366.8h0M1386.1 3365.8h0M1394.3 3368.8h0M1399.2 3365.8h0M1401.7 3368.2h0M1406.7 3367.7h0M1411.0 3366.3h0M1413.3 3366.9h0M1420.7 3365.7h0M1420.6 3368.2h0M1426.9 3366.0h0M1434.6 3366.4h0M1433.8 3366.2h0M1441.4 3365.8h0M1445.4 3368.9h0M1449.1 3368.2h0M1456.4 3367.2h0M1458.3 3365.8h0M1463.1 3368.5h0M1470.2 3365.8h0M1471.3 3366.4h0M1477.7 3366.2h0M1481.6 3367.5h0M1488.6 3368.6h0M1492.9 3368.1h0M1494.4 3366.4h0M1503.2 3368.7h0M1504.5 3368.3h0M1510.9 3367.4h0M1515.1 3366.6h0M1521.6 3365.9h0M1526.4 3367.8h0M1526.5 3366.1h0M1534.4 3365.9h0M1535.2 3367.5h0M1543.3 3366.4h0M1544.4 3365.7h0M1550.3 3368.3h0M1553.2 3365.5h0M1550.3 3360.8h0M1552.1 3358.8h0M1550.0 3350.5h0M1549.7 3349.0h0M1548.2 3338.4h0M1548.6 3338.9h0M1548.8 3339.8h0M1547.0 3332.9h0M1544.9 3323.7h0M1546.4 3319.7h0M1544.8 3319.0h0M1543.1 3311.8h0M1540.7 3305.5h0M1541.0 3303.2h0M1541.4 3294.8h0M1537.9 3287.4h0M1536.8 3287.0h0M1532.6 3287.5h0M1530.3 3290.4h0M1524.3 3293.9h0M1523.5 3296.5h0M1518.1 3302.4h0M1513.4 3304.4h0M1511.5 3307.5h0M1511.5 3308.1h0M1504.4 3310.3h0M1499.0 3315.8h0M1496.6 3315.3h0M1492.8 3320.8h0M1493.9 3319.1h0M1489.5 3320.7h0M1484.0 3324.4h0M1482.7 3323.2h0M1481.8 3327.3h0M1473.5 3331.8h0M1471.2 3331.2h0M1466.2 3335.4h0M1457.5 3338.4h0M1459.1 3338.5h0M1457.3 3339.7h0M1456.4 3340.2h0M1449.8 3339.9h0M1448.1 3343.2h0M1440.5 3343.6h0M1439.5 3343.8h0M1439.1 3344.2h0M1429.9 3346.5h0M1426.6 3350.5h0M1427.5 3353.7h0M1423.5 3359.6h0M1422.2 3359.7h0M1424.0 3362.1h0M1421.8 3360.6h0M1421.2 3362.7h0M1422.2 3363.5h0M1422.0 3361.0h0M1420.2 3361.7h0M1419.9 3364.1h0M1422.2 3363.4h0M1420.9 3364.4h0M1420.7 3363.2h0M1420.4 3363.2h0M1418.3 3364.2h0M1417.7 3362.0h0M1413.3 3361.9h0M1410.9 3361.0h0M1405.6 3359.6h0M1396.2 3361.7h0M1395.2 3361.2h0M1386.3 3359.4h0M1386.7 3358.1h0M1387.1 3359.6h0M1386.6 3358.5h0M1381.6 3357.3h0M1379.5 3357.7h0M1373.1 3355.0h0M1367.2 3352.6h0M1369.6 3352.6h0M1369.4 3352.3h0M1368.9 3352.9h0M1366.0 3349.1h0M1362.4 3346.1h0M1357.4 3340.6h0M1355.5 3339.8h0M1353.6 3337.6h0M1355.1 3339.7h0M1349.8 3335.1h0M1347.1 3335.1h0M1346.8 3338.4h0M1347.1 3336.6h0M1344.9 3338.0h0M1343.9 3342.6h0M1341.4 3343.4h0M1339.2 3347.0h0M1335.1 3350.7h0M1334.0 3353.0h0M1331.8 3351.0h0M1333.8 3352.1h0M1331.9 3353.4h0M1327.9 3355.2h0M1326.7 3354.3h0M1321.5 3359.3h0M1319.2 3358.6h0M1313.2 3360.6h0M1314.6 3362.8h0M1305.4 3364.0h0M1303.1 3367.6h0M1299.3 3368.3h0M1455.3 3322.1h0M1453.6 3328.1h0M1501.1 3289.9h0M1471.2 3293.4h0M1508.8 3269.2h0M1493.1 3270.4h0M1519.2 3277.0h0M1465.6 3297.7h0M1461.9 3307.8h0M1455.8 3332.1h0M1506.8 3290.2h0M1476.0 3276.8h0M1476.3 3287.4h0M1509.3 3286.7h0M1454.8 3333.5h0M1522.7 3290.3h0M1499.0 3289.4h0M1511.4 3290.2h0M1491.9 3268.0h0M1483.8 3302.8h0M1529.2 3251.5h0M1542.1 3274.4h0M1490.9 3310.0h0M1456.6 3316.2h0M1490.2 3310.6h0M1542.9 3269.1h0M1537.9 3262.9h0M1513.5 3258.0h0M1460.0 3324.1h0M1520.2 3262.5h0M1472.7 3298.4h0M1510.9 3251.5h0M1463.0 3319.0h0M1503.9 3261.8h0M1481.9 3293.4h0M1457.3 3323.7h0M1472.0 3300.3h0M1481.4 3307.5h0M1522.4 3268.1h0M1468.5 3309.7h0M1501.1 3296.3h0M1509.0 3274.9h0M1493.6 3303.5h0M1484.2 3269.6h0M1504.1 3273.8h0M1483.2 3316.4h0M1485.9 3314.9h0M1469.4 3297.1h0M1491.6 3301.6h0M1502.1 3282.0h0M1507.3 3284.0h0M1519.1 3254.4h0M1481.0 3300.5h0M1462.5 3327.4h0M1504.4 3274.6h0M1519.2 3260.6h0M1520.3 3280.0h0M1459.3 3308.8h0M1470.4 3292.0h0M1525.3 3250.5h0M1336.9 3332.8h0M1313.9 3356.7h0M1321.8 3333.9h0M1345.6 3323.9h0M1321.3 3349.6h0M1308.4 3343.0h0M1335.7 3329.5h0M1323.5 3340.6h0M1339.7 3331.5h0M1344.0 3321.8h0M1306.5 3349.9h0M1325.6 3344.9h0M1330.2 3336.7h0M1332.2 3338.9h0M1539.1 2923.2h0M1502.7 2980.3h0M1458.1 3004.7h0M1482.5 3009.3h0M1413.5 3076.9h0M1474.7 3076.0h0M1483.9 3072.8h0M1487.5 3087.5h0M1489.6 3180.3h0M1489.6 3186.9h0M1512.9 3181.2h0M1540.9 3181.2h0M1494.9 3215.4h0M1456.7 3222.9h0M1464.6 3230.8h0M1483.0 3229.4h0M1490.9 3233.8h0M1323.0 3271.5h0M1437.0 3272.4h0M1405.0 3286.9h0M1295.3 3298.7h0M1319.9 3302.2h0M1328.7 3302.2h0M1339.6 3311.0h0M1417.3 3314.1h0M1432.6 3311.9h0M1443.6 3307.5h0M1308.9 3331.6h0M1323.0 3329.4h0M1282.6 3347.0h0M1419.5 3338.2h0M1448.0 3329.4h0" fill="none" stroke="#1874CD" stroke-width="8.8" stroke-linecap="square"/>
<path d="M1563.1 3369.1L1679.3 3369.1L1679.3 3366.7L1679.3 3366.5L1679.3 3366.4L1679.3 3366.2L1679.4 3366.0L1683.3 3355.1L1689.2 3334.8L1683.5 3320.1L1674.8 3313.3L1663.9 3317.1L1651.2 3329.4L1642.6 3342.0L1642.4 3342.1L1642.3 3342.3L1642.2 3342.4L1642.0 3342.5L1641.8 3342.6L1641.7 3342.7L1641.5 3342.8L1641.3 3342.8L1641.1 3342.8L1640.9 3342.8L1640.7 3342.8L1640.5 3342.8L1640.3 3342.8L1640.1 3342.7L1640.0 3342.6L1639.8 3342.5L1626.7 3333.7L1614.6 3326.1L1602.5 3333.8L1602.3 3333.9L1602.2 3333.9L1602.0 3334.0L1601.8 3334.0L1601.6 3334.1L1601.4 3334.1L1601.2 3334.1L1601.0 3334.0L1600.9 3334.0L1600.7 3333.9L1600.5 3333.8L1600.3 3333.7L1587.2 3325.0L1587.0 3324.8L1579.3 3317.9L1568.9 3324.6L1563.1 3340.3Z" fill="#EE4000"/>
<path d="M1685.6 3354.9C1688.4 3351.4 1697.0 3341.7 1702.3 3333.8C1707.6 3325.9 1713.3 3315.5 1717.7 3307.5C1722.0 3299.5 1725.8 3291.3 1728.6 3285.6C1731.5 3279.9 1733.7 3275.3 1734.8 3273.3" fill="none" stroke="#EE4000" stroke-width="9" stroke-linecap="round"/>
<path d="M1685.6 3367.6C1689.9 3366.7 1703.2 3364.7 1711.1 3362.3C1719.0 3360.0 1726.4 3357.2 1733.0 3353.6C1739.6 3349.9 1744.7 3345.9 1750.5 3340.4C1756.4 3334.9 1763.0 3327.6 1768.1 3320.7C1773.2 3313.7 1777.7 3304.8 1781.2 3298.7C1784.8 3292.7 1788.2 3286.7 1789.6 3284.3" fill="none" stroke="#EE4000" stroke-width="10.5" stroke-linecap="round"/>
<path d="M1568.2 3366.7h0M1573.9 3368.9h0M1574.0 3366.2h0M1579.1 3368.2h0M1584.4 3368.4h0M1592.6 3366.4h0M1595.4 3366.6h0M1599.4 3368.4h0M1604.6 3366.1h0M1608.0 3366.1h0M1613.0 3366.5h0M1616.9 3366.3h0M1619.0 3366.5h0M1627.2 3367.6h0M1630.5 3366.6h0M1634.8 3368.8h0M1639.4 3368.0h0M1645.9 3367.1h0M1647.3 3368.0h0M1654.6 3368.2h0M1658.8 3366.1h0M1663.3 3366.7h0M1664.9 3366.4h0M1670.2 3366.4h0M1672.6 3366.8h0M1676.6 3366.1h0M1677.8 3367.4h0M1678.5 3364.8h0M1676.2 3366.9h0M1678.3 3364.8h0M1677.0 3364.8h0M1681.7 3358.6h0M1682.3 3352.0h0M1685.4 3345.9h0M1686.3 3344.4h0M1686.7 3335.1h0M1687.9 3333.1h0M1684.5 3326.5h0M1682.3 3326.2h0M1681.2 3320.8h0M1674.3 3315.8h0M1671.4 3316.5h0M1667.5 3319.3h0M1661.4 3319.6h0M1658.6 3325.1h0M1652.9 3329.0h0M1652.3 3333.7h0M1647.7 3335.4h0M1646.0 3341.0h0M1643.9 3344.4h0M1643.4 3345.0h0M1644.6 3344.7h0M1643.6 3344.9h0M1643.4 3345.5h0M1643.6 3344.9h0M1641.9 3344.1h0M1642.2 3345.5h0M1640.1 3344.4h0M1642.6 3345.2h0M1640.8 3345.9h0M1641.0 3344.1h0M1640.9 3343.6h0M1640.7 3346.0h0M1639.6 3345.8h0M1640.1 3344.1h0M1639.3 3342.3h0M1630.6 3340.0h0M1627.3 3336.2h0M1625.6 3334.4h0M1613.6 3326.9h0M1613.1 3330.4h0M1608.4 3333.3h0M1602.7 3334.4h0M1603.4 3335.7h0M1602.9 3335.6h0M1601.4 3334.9h0M1602.4 3336.7h0M1601.9 3335.5h0M1602.6 3335.8h0M1601.5 3335.8h0M1599.0 3336.8h0M1601.3 3335.1h0M1600.7 3334.6h0M1597.9 3335.7h0M1596.6 3332.3h0M1592.4 3332.5h0M1588.9 3327.6h0M1587.4 3327.7h0M1581.3 3323.0h0M1577.1 3322.0h0M1572.6 3325.6h0M1568.4 3328.7h0M1567.1 3334.5h0M1564.2 3338.9h0M1564.8 3344.5h0M1566.3 3345.3h0M1563.4 3353.6h0M1566.3 3358.3h0M1566.1 3364.0h0M1631.6 3290.0h0M1605.8 3300.4h0M1638.6 3301.0h0M1686.8 3263.0h0M1691.4 3310.6h0M1648.8 3291.6h0M1601.0 3324.7h0M1705.3 3304.2h0M1642.4 3303.5h0M1651.5 3302.7h0M1624.5 3284.9h0M1623.2 3318.4h0M1611.3 3298.7h0M1576.1 3308.9h0M1633.4 3280.1h0M1680.5 3276.4h0M1567.9 3318.6h0M1593.6 3292.2h0M1575.3 3276.4h0M1634.9 3326.2h0M1609.5 3310.0h0M1589.5 3321.4h0M1651.9 3294.2h0M1680.8 3295.3h0M1674.1 3304.6h0M1562.0 3313.9h0M1626.2 3307.8h0M1636.7 3288.8h0M1637.8 3280.5h0M1594.4 3322.2h0M1642.7 3306.9h0M1631.7 3329.0h0M1613.1 3303.5h0M1603.6 3321.5h0M1661.2 3307.0h0M1688.5 3311.8h0M1682.6 3301.8h0M1697.5 3299.9h0M1647.0 3328.4h0M1607.5 3298.8h0M1708.1 3277.2h0M1681.0 3267.3h0M1576.8 3313.1h0M1637.3 3309.8h0M1682.5 3306.6h0M1643.4 3303.5h0M1617.6 3288.4h0M1626.9 3311.1h0M1582.7 3298.6h0M1584.1 3314.6h0M1601.9 3323.0h0M1628.5 3318.2h0M1584.3 3279.8h0M1588.1 3301.8h0M1594.6 3305.8h0M1634.3 3311.6h0M1640.1 3325.3h0M1692.4 3292.4h0M1699.1 3288.8h0M1648.0 3288.9h0M1614.7 3278.7h0M1641.8 3300.9h0M1632.7 3280.4h0M1647.8 3317.6h0M1659.1 3280.3h0M1570.4 3314.1h0M1692.4 3316.9h0M1699.4 3304.4h0M1621.7 3280.3h0M1683.0 3273.2h0M1663.1 3311.3h0M1663.2 3307.3h0M1592.0 3315.4h0M1641.0 3318.9h0M1566.2 3313.8h0M1606.1 3300.1h0M1581.8 3288.2h0M1609.2 3275.6h0M1671.5 3297.2h0M1601.7 3284.1h0M1662.7 3291.9h0M1617.0 3275.7h0M1685.2 3258.8h0M1579.8 3296.8h0M1575.1 3307.2h0M1648.9 3315.3h0M1654.3 3280.1h0M1648.5 3289.3h0M1575.2 3299.9h0M1654.3 3302.1h0M1649.1 3307.7h0M1697.7 3313.6h0M1569.6 3300.8h0M1658.8 3315.1h0M1672.5 3298.9h0M1798.1 2818.8h0M1736.9 2943.5h0M1742.9 2968.3h0M1740.1 3004.7h0M1836.8 3042.8h0M1775.1 3070.5h0M1593.4 3109.1h0M1736.0 3113.2h0M1703.3 3120.6h0M1768.2 3127.0h0M1747.0 3130.3h0M1775.5 3070.7h0M1594.0 3108.9h0M1736.5 3113.7h0M1703.2 3120.3h0M1768.1 3127.7h0M1747.0 3130.3h0M1690.0 3142.2h0M1616.4 3148.3h0M1637.0 3147.0h0M1668.5 3147.4h0M1574.3 3159.3h0M1575.1 3170.7h0M1591.8 3168.1h0M1708.4 3161.5h0M1719.0 3173.8h0M1626.9 3192.2h0M1598.4 3196.1h0M1755.8 3191.3h0M1754.9 3197.9h0M1811.9 3202.3h0M1810.6 3211.0h0M1750.5 3215.4h0M1749.7 3226.4h0M1697.0 3222.0h0M1676.9 3227.3h0M1599.7 3227.3h0M1726.4 3237.3h0M1667.2 3241.7h0M1801.0 3250.5h0M1634.3 3253.6h0M1722.0 3252.7h0M1719.9 3261.5h0M1716.8 3270.2h0M1578.6 3261.5h0M1657.6 3260.6h0M1693.5 3263.7h0M1740.9 3257.1h0M1738.7 3265.8h0M1668.5 3268.0h0M1795.3 3268.0h0M1566.4 3274.6h0M1658.5 3275.9h0M1728.6 3366.7h0" fill="none" stroke="#EE4000" stroke-width="8.8" stroke-linecap="square"/>
<path d="M1458.9 3368.9L1678.2 3368.9" stroke="#000" stroke-width="11.5" stroke-linecap="round"/>
<path d="M1422.5 3368.9L1425.2 3368.9" stroke="#000" stroke-width="8" stroke-linecap="round"/>
<path d="M1434.4 3368.9L1437.0 3368.9" stroke="#000" stroke-width="8" stroke-linecap="round"/>
</g></g>
<rect x="1256.5" y="2795.5" width="604.0" height="600.5" fill="none" stroke="#000" stroke-width="9.4"/>
<rect x="1487.1" y="2790.8" width="5.5" height="4" fill="#1874CD"/>
<rect x="1742.0" y="2790.8" width="5.5" height="4" fill="#EE4000"/>
<rect x="1817.9" y="2790.8" width="5.5" height="4" fill="#EE4000"/>
<text x="1302.9" y="3465.5" font-size="61.5" font-family="'DejaVu Sans', sans-serif" text-anchor="middle">-10</text>
<text x="1429.5" y="3465.5" font-size="61.5" font-family="'DejaVu Sans', sans-serif" text-anchor="middle">-5</text>
<text x="1557.5" y="3465.5" font-size="61.5" font-family="'DejaVu Sans', sans-serif" text-anchor="middle">0</text>
<text x="1684" y="3465.5" font-size="61.5" font-family="'DejaVu Sans', sans-serif" text-anchor="middle">5</text>
<text x="1810.5" y="3465.5" font-size="61.5" font-family="'DejaVu Sans', sans-serif" text-anchor="middle">10</text>
<text x="1234.5" y="2837.6" font-size="61.5" font-family="'DejaVu Sans', sans-serif" text-anchor="end">250</text>
<text x="1234.5" y="2948.5" font-size="61.5" font-family="'DejaVu Sans', sans-serif" text-anchor="end">200</text>
<text x="1234.5" y="3059.9" font-size="61.5" font-family="'DejaVu Sans', sans-serif" text-anchor="end">150</text>
<text x="1234.5" y="3171.2" font-size="61.5" font-family="'DejaVu Sans', sans-serif" text-anchor="end">100</text>
<text x="1234.5" y="3282.0" font-size="61.5" font-family="'DejaVu Sans', sans-serif" text-anchor="end">50</text>
<text x="1234.5" y="3393.4" font-size="61.5" font-family="'DejaVu Sans', sans-serif" text-anchor="end">0</text>
<path d="M1304.4 3400.7v9M1431 3400.7v9M1557.5 3400.7v9M1684 3400.7v9M1810.5 3400.7v9M1251.8 2814.6h-9M1251.8 2925.5h-9M1251.8 3036.9h-9M1251.8 3148.2h-9M1251.8 3259h-9M1251.8 3370.4h-9" stroke="#000" stroke-width="3" fill="none"/>
<text x="1561.5" y="2757.3" font-size="75" letter-spacing="1" font-family="'DejaVu Sans', sans-serif" text-anchor="middle">M016_R</text>
<text x="1561.5" y="3536.8" font-size="68.8" font-family="'DejaVu Sans', sans-serif" text-anchor="middle">log(FC)</text>
<text transform="translate(1078,3311.4) rotate(-90)" font-size="69" font-family="'DejaVu Sans', sans-serif">−<tspan dx="6.3">log</tspan><tspan font-size="49" dy="13" dx="-4.4">10</tspan><tspan font-size="92" dy="-13" dx="-2">(</tspan><tspan dx="-2.7">FDR</tspan><tspan font-size="92">)</tspan></text>
</g>
</svg>
</body></html>
